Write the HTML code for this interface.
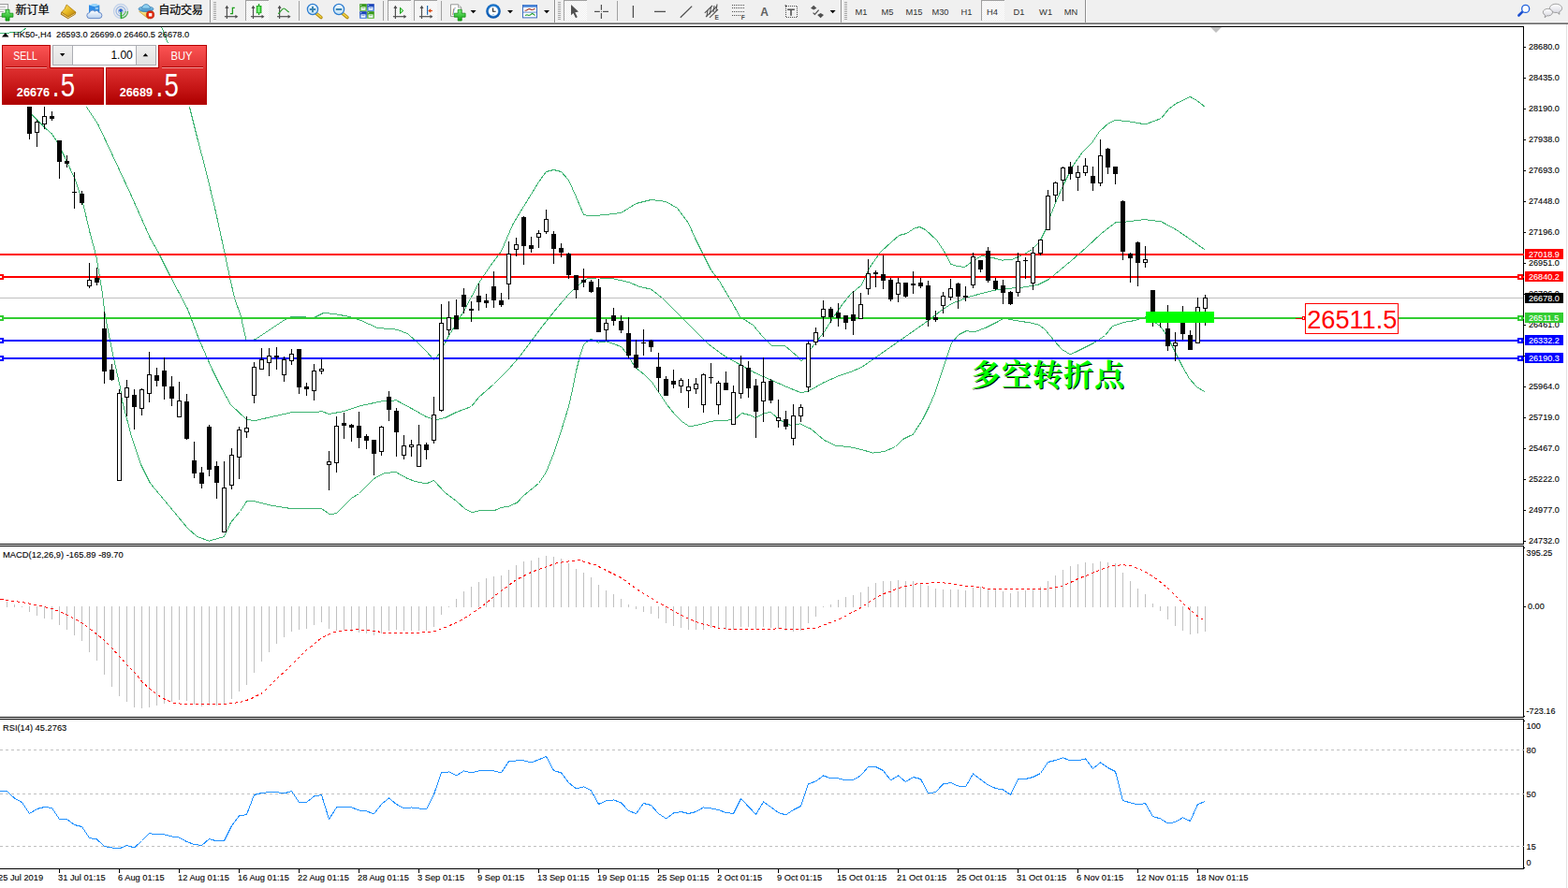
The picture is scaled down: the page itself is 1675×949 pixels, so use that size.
<!DOCTYPE html>
<html><head><meta charset="utf-8"><title>HK50 H4</title>
<style>
html,body{margin:0;padding:0;background:#fff;}
body{width:1675px;height:949px;position:relative;overflow:hidden;font-family:"Liberation Sans", sans-serif;}
#tb{position:absolute;left:0;top:0;width:1675px;height:26px;background:#F0F0F0;}
#tb .l1{position:absolute;left:0;top:23px;width:100%;height:1px;background:#F5F5F5}
#tb .l2{position:absolute;left:0;top:24px;width:100%;height:1px;background:#A0A0A0}
#tb .l3{position:absolute;left:0;top:25px;width:100%;height:1px;background:#696969}
</style></head><body>
<svg width="1675" height="949" viewBox="0 0 1675 949" shape-rendering="crispEdges" font-family='"Liberation Sans", sans-serif' style="position:absolute;left:0;top:0"><polyline points="172.5,28.5 179.5,46.5" fill="none" stroke="#3CB371" stroke-width="1"/>
<polyline points="202.5,114.5 210.5,146.5 220.5,184.5 230.5,226.5 240.5,272.5 245.5,296.5 250.5,318.5 257.5,338.5 262.9,363.5 272.5,362.9 304.5,341.5 312.5,338.1 335.5,339.5 345.5,334.5 357.5,335.5 373.5,338.5 385.5,342.5 403.5,350.5 423.5,352.1 435.5,356.5 447.5,367.5 455.5,375.5 463.5,384.5 467.5,380.5 475.5,366.5 479.5,358.5 483.5,352.5 495.5,332.5 511.5,302.5 523.5,284.5 535.5,268.5 547.5,240.5 559.5,220.5 575.5,194.5 583.5,183.5 591.5,181.5 599.5,183.5 607.5,192.5 615.5,210.5 623.5,229.5 629.5,230.9 647.5,229.5 663.5,227.5 679.5,217.5 695.5,213.5 711.5,215.5 723.5,222.5 735.5,238.5 743.5,256.5 751.5,272.5 759.5,288.5 768.5,300.5 780.5,320.5 790.5,338.5 804.5,347.5 814.5,359.5 824.5,369.5 838.5,369.5 852.5,381.5 856.1,386.1 860.5,381.5 866.5,372.5 880.5,354.5 890.5,338.5 900.5,324.5 908.5,314.5 920.5,304.5 928.5,286.5 940.5,269.5 952.5,258.5 960.5,251.5 968.5,249.5 976.5,244.1 982.5,242.5 988.5,245.5 1000.5,256.5 1008.5,268.5 1015.5,282.1 1022.5,284.5 1030.5,285.5 1038.5,279.5 1048.5,273.5 1060.5,275.5 1070.5,278.1 1080.5,277.5 1092.5,272.5 1102.5,266.5 1110.5,258.5 1116.5,246.5 1120.5,234.5 1128.5,214.5 1136.5,196.5 1146.5,176.5 1156.5,162.5 1166.5,152.5 1174.5,140.5 1184.5,131.5 1191.5,128.5 1204.5,129.5 1223.5,132.9 1240.5,126.5 1248.5,116.5 1256.5,110.5 1271.5,103.5 1278.5,107.5 1287.1,114.1" fill="none" stroke="#3CB371" stroke-width="1"/>
<polyline points="0.5,35.5 14.5,34.8 22.5,34.0 28.5,29.5" fill="none" stroke="#3CB371" stroke-width="1"/>
<polyline points="92.5,114.5 104.5,132.5 120.5,166.5 140.5,209.5 160.5,254.5 169.5,270.5 180.5,292.5 200.5,330.5 212.5,362.5 226.5,394.5 236.5,414.5 246.5,432.5 263.5,448.5 272.5,449.5 310.5,440.9 335.5,440.9 343.5,439.5 351.5,442.5 367.5,439.5 385.5,433.5 409.5,428.5 423.5,427.9 439.5,436.5 455.5,445.5 465.5,448.9 475.5,446.5 487.5,440.5 503.5,434.5 511.5,424.5 527.5,410.5 543.5,394.5 555.5,380.5 567.5,364.5 579.5,348.5 595.5,328.5 607.5,314.5 615.5,306.5 627.5,297.5 639.5,296.9 655.5,297.9 671.5,301.5 683.5,306.5 695.5,309.1 707.5,318.5 719.5,330.5 731.5,342.5 743.5,354.5 756.5,367.5 772.5,379.5 788.5,388.5 806.5,398.5 824.5,406.5 840.5,413.5 856.1,419.9 864.5,417.5 880.5,408.5 896.5,401.5 908.5,397.5 920.5,392.5 940.5,378.5 960.5,364.5 980.5,350.5 994.5,340.5 1004.5,332.5 1016.5,324.5 1036.5,316.9 1056.5,311.5 1072.5,308.5 1090.5,307.5 1108.5,304.5 1120.5,298.5 1132.5,288.5 1144.5,278.5 1160.5,264.5 1176.5,249.5 1191.5,237.9 1204.5,236.9 1222.5,234.5 1240.5,236.9 1256.5,245.5 1272.5,256.5 1287.1,266.9" fill="none" stroke="#3CB371" stroke-width="1"/>
<polyline points="29.1,114.5 34.9,123.5 47.8,136.5 54.9,142.5 60.5,150.5 69.5,168.5 80.5,192.5 88.5,216.5 96.5,250.5 102.5,272.5 105.5,289.5 109.5,314.5 112.5,338.5 120.5,378.5 128.5,414.5 130.5,428.5 140.5,466.5 150.5,496.5 160.5,516.5 180.5,540.5 200.5,564.5 210.5,573.5 223.5,578.1 239.5,573.5 246.5,558.5 256.5,546.5 263.5,535.9 272.5,535.9 288.5,539.9 310.5,543.5 335.5,543.1 343.5,543.5 352.5,549.9 359.5,548.5 375.5,532.5 383.5,527.5 399.5,511.5 411.5,505.1 423.5,504.9 435.5,511.5 443.5,514.5 455.5,516.9 463.5,513.5 475.5,526.5 487.5,535.5 497.5,544.5 504.5,547.5 511.5,545.9 527.5,545.9 535.5,542.5 543.5,541.1 552.5,537.1 559.5,529.5 575.5,516.5 583.5,504.5 591.5,484.5 599.5,460.5 607.5,434.5 611.5,416.5 615.5,396.5 619.5,380.5 623.5,368.5 627.5,364.9 631.5,362.5 639.5,366.1 647.5,364.9 655.5,367.5 663.5,370.5 668.5,376.5 678.5,392.5 688.5,400.5 696.5,408.5 704.5,420.5 712.5,432.5 720.5,442.5 728.5,450.5 736.5,455.9 748.5,453.5 760.5,450.1 772.5,449.5 784.5,448.5 792.5,441.5 800.5,443.5 807.5,446.5 816.5,441.5 823.5,440.5 832.5,448.5 844.5,454.5 854.5,452.9 866.5,458.5 880.5,470.5 892.5,476.1 908.5,477.9 920.5,480.5 932.5,484.1 944.5,482.5 956.5,477.5 964.5,469.5 975.5,464.1 985.5,448.5 992.5,434.5 998.5,420.5 1006.5,396.5 1012.5,378.5 1016.5,366.5 1024.5,357.5 1032.5,353.5 1040.5,354.9 1052.5,350.5 1064.5,344.5 1072.5,340.1 1084.5,342.5 1100.5,344.9 1110.5,347.5 1116.5,352.5 1126.5,364.5 1134.5,373.5 1143.5,378.9 1152.5,374.5 1168.5,366.5 1180.5,358.5 1188.5,348.5 1200.5,344.5 1212.5,342.5 1224.5,338.5 1239.5,348.5 1246.5,358.5 1254.5,374.5 1262.5,390.5 1270.5,404.5 1278.5,413.5 1287.1,418.9" fill="none" stroke="#3CB371" stroke-width="1"/>
<rect x="0" y="318" width="1627" height="1" fill="#C0C0C0"/>
<rect x="0" y="271" width="1627" height="2" fill="#FF0000"/>
<rect x="0" y="295" width="1627" height="2" fill="#FF0000"/>
<rect x="0" y="339" width="1627" height="2" fill="#32CD32"/>
<rect x="0" y="363" width="1627" height="2" fill="#0000FF"/>
<rect x="0" y="382" width="1627" height="2" fill="#0000FF"/>
<rect x="31" y="95" width="1" height="54" fill="#000"/>
<rect x="29" y="100" width="5" height="43" fill="#000"/>
<rect x="39" y="128" width="1" height="29" fill="#000"/>
<rect x="37" y="130" width="5" height="12" fill="#000"/>
<rect x="38" y="131" width="3" height="10" fill="#fff"/>
<rect x="47" y="108" width="1" height="30" fill="#000"/>
<rect x="45" y="124" width="5" height="9" fill="#000"/>
<rect x="46" y="125" width="3" height="7" fill="#fff"/>
<rect x="55" y="119" width="1" height="10" fill="#000"/>
<rect x="53" y="124" width="5" height="3" fill="#000"/>
<rect x="63" y="150" width="1" height="41" fill="#000"/>
<rect x="61" y="150" width="5" height="23" fill="#000"/>
<rect x="71" y="166" width="1" height="13" fill="#000"/>
<rect x="69" y="172" width="5" height="3" fill="#000"/>
<rect x="79" y="184" width="1" height="39" fill="#000"/>
<rect x="77" y="205" width="5" height="1" fill="#000"/>
<rect x="87" y="204" width="1" height="15" fill="#000"/>
<rect x="85" y="207" width="5" height="10" fill="#000"/>
<rect x="95" y="281" width="1" height="27" fill="#000"/>
<rect x="93" y="299" width="5" height="7" fill="#000"/>
<rect x="94" y="300" width="3" height="5" fill="#fff"/>
<rect x="103" y="286" width="1" height="19" fill="#000"/>
<rect x="101" y="297" width="5" height="5" fill="#000"/>
<rect x="111" y="333" width="1" height="77" fill="#000"/>
<rect x="109" y="351" width="5" height="46" fill="#000"/>
<rect x="119" y="389" width="1" height="18" fill="#000"/>
<rect x="117" y="395" width="5" height="11" fill="#000"/>
<rect x="127" y="416" width="1" height="98" fill="#000"/>
<rect x="125" y="420" width="5" height="94" fill="#000"/>
<rect x="126" y="421" width="3" height="92" fill="#fff"/>
<rect x="135" y="406" width="1" height="39" fill="#000"/>
<rect x="133" y="414" width="5" height="11" fill="#000"/>
<rect x="134" y="415" width="3" height="9" fill="#fff"/>
<rect x="143" y="416" width="1" height="43" fill="#000"/>
<rect x="141" y="422" width="5" height="13" fill="#000"/>
<rect x="151" y="415" width="1" height="29" fill="#000"/>
<rect x="149" y="416" width="5" height="21" fill="#000"/>
<rect x="150" y="417" width="3" height="19" fill="#fff"/>
<rect x="159" y="376" width="1" height="54" fill="#000"/>
<rect x="157" y="400" width="5" height="21" fill="#000"/>
<rect x="158" y="401" width="3" height="19" fill="#fff"/>
<rect x="167" y="393" width="1" height="20" fill="#000"/>
<rect x="165" y="401" width="5" height="6" fill="#000"/>
<rect x="175" y="382" width="1" height="45" fill="#000"/>
<rect x="173" y="396" width="5" height="17" fill="#000"/>
<rect x="183" y="402" width="1" height="32" fill="#000"/>
<rect x="181" y="413" width="5" height="13" fill="#000"/>
<rect x="191" y="408" width="1" height="38" fill="#000"/>
<rect x="189" y="428" width="5" height="18" fill="#000"/>
<rect x="190" y="429" width="3" height="16" fill="#fff"/>
<rect x="199" y="421" width="1" height="49" fill="#000"/>
<rect x="197" y="429" width="5" height="40" fill="#000"/>
<rect x="207" y="472" width="1" height="39" fill="#000"/>
<rect x="205" y="492" width="5" height="14" fill="#000"/>
<rect x="215" y="499" width="1" height="23" fill="#000"/>
<rect x="213" y="505" width="5" height="12" fill="#000"/>
<rect x="223" y="454" width="1" height="55" fill="#000"/>
<rect x="221" y="456" width="5" height="46" fill="#000"/>
<rect x="231" y="493" width="1" height="40" fill="#000"/>
<rect x="229" y="498" width="5" height="18" fill="#000"/>
<rect x="239" y="493" width="1" height="76" fill="#000"/>
<rect x="237" y="521" width="5" height="48" fill="#000"/>
<rect x="238" y="522" width="3" height="46" fill="#fff"/>
<rect x="247" y="479" width="1" height="44" fill="#000"/>
<rect x="245" y="486" width="5" height="33" fill="#000"/>
<rect x="246" y="487" width="3" height="31" fill="#fff"/>
<rect x="255" y="456" width="1" height="56" fill="#000"/>
<rect x="253" y="459" width="5" height="30" fill="#000"/>
<rect x="254" y="460" width="3" height="28" fill="#fff"/>
<rect x="263" y="445" width="1" height="23" fill="#000"/>
<rect x="261" y="457" width="5" height="5" fill="#000"/>
<rect x="262" y="458" width="3" height="3" fill="#fff"/>
<rect x="271" y="387" width="1" height="44" fill="#000"/>
<rect x="269" y="392" width="5" height="31" fill="#000"/>
<rect x="270" y="393" width="3" height="29" fill="#fff"/>
<rect x="279" y="372" width="1" height="23" fill="#000"/>
<rect x="277" y="384" width="5" height="11" fill="#000"/>
<rect x="278" y="385" width="3" height="9" fill="#fff"/>
<rect x="287" y="372" width="1" height="30" fill="#000"/>
<rect x="285" y="380" width="5" height="8" fill="#000"/>
<rect x="286" y="381" width="3" height="6" fill="#fff"/>
<rect x="295" y="371" width="1" height="24" fill="#000"/>
<rect x="293" y="380" width="5" height="2" fill="#000"/>
<rect x="303" y="381" width="1" height="27" fill="#000"/>
<rect x="301" y="384" width="5" height="17" fill="#000"/>
<rect x="302" y="385" width="3" height="15" fill="#fff"/>
<rect x="311" y="373" width="1" height="17" fill="#000"/>
<rect x="309" y="378" width="5" height="8" fill="#000"/>
<rect x="310" y="379" width="3" height="6" fill="#fff"/>
<rect x="319" y="373" width="1" height="48" fill="#000"/>
<rect x="317" y="373" width="5" height="41" fill="#000"/>
<rect x="327" y="409" width="1" height="14" fill="#000"/>
<rect x="325" y="413" width="5" height="3" fill="#000"/>
<rect x="335" y="389" width="1" height="39" fill="#000"/>
<rect x="333" y="396" width="5" height="22" fill="#000"/>
<rect x="334" y="397" width="3" height="20" fill="#fff"/>
<rect x="343" y="384" width="1" height="16" fill="#000"/>
<rect x="341" y="394" width="5" height="3" fill="#000"/>
<rect x="342" y="395" width="3" height="1" fill="#fff"/>
<rect x="351" y="482" width="1" height="42" fill="#000"/>
<rect x="349" y="493" width="5" height="4" fill="#000"/>
<rect x="350" y="494" width="3" height="2" fill="#fff"/>
<rect x="359" y="445" width="1" height="60" fill="#000"/>
<rect x="357" y="455" width="5" height="40" fill="#000"/>
<rect x="358" y="456" width="3" height="38" fill="#fff"/>
<rect x="367" y="441" width="1" height="28" fill="#000"/>
<rect x="365" y="452" width="5" height="3" fill="#000"/>
<rect x="375" y="453" width="1" height="19" fill="#000"/>
<rect x="373" y="454" width="5" height="3" fill="#000"/>
<rect x="383" y="440" width="1" height="39" fill="#000"/>
<rect x="381" y="455" width="5" height="13" fill="#000"/>
<rect x="391" y="464" width="1" height="16" fill="#000"/>
<rect x="389" y="466" width="5" height="5" fill="#000"/>
<rect x="399" y="470" width="1" height="38" fill="#000"/>
<rect x="397" y="470" width="5" height="15" fill="#000"/>
<rect x="407" y="455" width="1" height="32" fill="#000"/>
<rect x="405" y="456" width="5" height="27" fill="#000"/>
<rect x="406" y="457" width="3" height="25" fill="#fff"/>
<rect x="415" y="418" width="1" height="32" fill="#000"/>
<rect x="413" y="424" width="5" height="14" fill="#000"/>
<rect x="423" y="436" width="1" height="52" fill="#000"/>
<rect x="421" y="439" width="5" height="23" fill="#000"/>
<rect x="431" y="465" width="1" height="26" fill="#000"/>
<rect x="429" y="476" width="5" height="11" fill="#000"/>
<rect x="430" y="477" width="3" height="9" fill="#fff"/>
<rect x="439" y="470" width="1" height="18" fill="#000"/>
<rect x="437" y="475" width="5" height="3" fill="#000"/>
<rect x="438" y="476" width="3" height="1" fill="#fff"/>
<rect x="447" y="454" width="1" height="45" fill="#000"/>
<rect x="445" y="475" width="5" height="24" fill="#000"/>
<rect x="446" y="476" width="3" height="22" fill="#fff"/>
<rect x="455" y="473" width="1" height="18" fill="#000"/>
<rect x="453" y="475" width="5" height="6" fill="#000"/>
<rect x="463" y="424" width="1" height="50" fill="#000"/>
<rect x="461" y="443" width="5" height="28" fill="#000"/>
<rect x="462" y="444" width="3" height="26" fill="#fff"/>
<rect x="471" y="325" width="1" height="115" fill="#000"/>
<rect x="469" y="345" width="5" height="94" fill="#000"/>
<rect x="470" y="346" width="3" height="92" fill="#fff"/>
<rect x="479" y="322" width="1" height="36" fill="#000"/>
<rect x="477" y="339" width="5" height="14" fill="#000"/>
<rect x="478" y="340" width="3" height="12" fill="#fff"/>
<rect x="487" y="320" width="1" height="32" fill="#000"/>
<rect x="485" y="337" width="5" height="15" fill="#000"/>
<rect x="495" y="308" width="1" height="27" fill="#000"/>
<rect x="493" y="315" width="5" height="13" fill="#000"/>
<rect x="503" y="322" width="1" height="22" fill="#000"/>
<rect x="501" y="330" width="5" height="2" fill="#000"/>
<rect x="511" y="303" width="1" height="29" fill="#000"/>
<rect x="509" y="316" width="5" height="7" fill="#000"/>
<rect x="519" y="314" width="1" height="15" fill="#000"/>
<rect x="517" y="321" width="5" height="3" fill="#000"/>
<rect x="527" y="290" width="1" height="39" fill="#000"/>
<rect x="525" y="306" width="5" height="15" fill="#000"/>
<rect x="535" y="313" width="1" height="15" fill="#000"/>
<rect x="533" y="321" width="5" height="5" fill="#000"/>
<rect x="543" y="258" width="1" height="62" fill="#000"/>
<rect x="541" y="271" width="5" height="33" fill="#000"/>
<rect x="542" y="272" width="3" height="31" fill="#fff"/>
<rect x="551" y="254" width="1" height="20" fill="#000"/>
<rect x="549" y="261" width="5" height="6" fill="#000"/>
<rect x="550" y="262" width="3" height="4" fill="#fff"/>
<rect x="559" y="231" width="1" height="52" fill="#000"/>
<rect x="557" y="232" width="5" height="31" fill="#000"/>
<rect x="567" y="253" width="1" height="17" fill="#000"/>
<rect x="565" y="262" width="5" height="4" fill="#000"/>
<rect x="575" y="246" width="1" height="19" fill="#000"/>
<rect x="573" y="249" width="5" height="5" fill="#000"/>
<rect x="574" y="250" width="3" height="3" fill="#fff"/>
<rect x="583" y="224" width="1" height="26" fill="#000"/>
<rect x="581" y="234" width="5" height="14" fill="#000"/>
<rect x="582" y="235" width="3" height="12" fill="#fff"/>
<rect x="591" y="247" width="1" height="35" fill="#000"/>
<rect x="589" y="250" width="5" height="16" fill="#000"/>
<rect x="599" y="260" width="1" height="15" fill="#000"/>
<rect x="597" y="265" width="5" height="5" fill="#000"/>
<rect x="607" y="270" width="1" height="28" fill="#000"/>
<rect x="605" y="271" width="5" height="23" fill="#000"/>
<rect x="615" y="294" width="1" height="25" fill="#000"/>
<rect x="613" y="294" width="5" height="16" fill="#000"/>
<rect x="623" y="287" width="1" height="20" fill="#000"/>
<rect x="621" y="299" width="5" height="3" fill="#000"/>
<rect x="631" y="299" width="1" height="14" fill="#000"/>
<rect x="629" y="301" width="5" height="11" fill="#000"/>
<rect x="639" y="298" width="1" height="57" fill="#000"/>
<rect x="637" y="307" width="5" height="48" fill="#000"/>
<rect x="647" y="341" width="1" height="23" fill="#000"/>
<rect x="645" y="345" width="5" height="8" fill="#000"/>
<rect x="646" y="346" width="3" height="6" fill="#fff"/>
<rect x="655" y="329" width="1" height="19" fill="#000"/>
<rect x="653" y="337" width="5" height="6" fill="#000"/>
<rect x="663" y="337" width="1" height="19" fill="#000"/>
<rect x="661" y="343" width="5" height="10" fill="#000"/>
<rect x="671" y="339" width="1" height="44" fill="#000"/>
<rect x="669" y="356" width="5" height="24" fill="#000"/>
<rect x="679" y="363" width="1" height="31" fill="#000"/>
<rect x="677" y="379" width="5" height="14" fill="#000"/>
<rect x="687" y="352" width="1" height="28" fill="#000"/>
<rect x="685" y="366" width="5" height="1" fill="#000"/>
<rect x="695" y="363" width="1" height="13" fill="#000"/>
<rect x="693" y="364" width="5" height="7" fill="#000"/>
<rect x="703" y="377" width="1" height="42" fill="#000"/>
<rect x="701" y="392" width="5" height="12" fill="#000"/>
<rect x="711" y="402" width="1" height="21" fill="#000"/>
<rect x="709" y="405" width="5" height="18" fill="#000"/>
<rect x="719" y="395" width="1" height="20" fill="#000"/>
<rect x="717" y="407" width="5" height="4" fill="#000"/>
<rect x="727" y="404" width="1" height="16" fill="#000"/>
<rect x="725" y="406" width="5" height="7" fill="#000"/>
<rect x="726" y="407" width="3" height="5" fill="#fff"/>
<rect x="735" y="405" width="1" height="31" fill="#000"/>
<rect x="733" y="413" width="5" height="5" fill="#000"/>
<rect x="734" y="414" width="3" height="3" fill="#fff"/>
<rect x="743" y="404" width="1" height="17" fill="#000"/>
<rect x="741" y="410" width="5" height="6" fill="#000"/>
<rect x="742" y="411" width="3" height="4" fill="#fff"/>
<rect x="751" y="399" width="1" height="42" fill="#000"/>
<rect x="749" y="400" width="5" height="33" fill="#000"/>
<rect x="750" y="401" width="3" height="31" fill="#fff"/>
<rect x="759" y="388" width="1" height="22" fill="#000"/>
<rect x="757" y="403" width="5" height="1" fill="#000"/>
<rect x="767" y="407" width="1" height="36" fill="#000"/>
<rect x="765" y="409" width="5" height="24" fill="#000"/>
<rect x="766" y="410" width="3" height="22" fill="#fff"/>
<rect x="775" y="397" width="1" height="20" fill="#000"/>
<rect x="773" y="409" width="5" height="8" fill="#000"/>
<rect x="783" y="412" width="1" height="42" fill="#000"/>
<rect x="781" y="419" width="5" height="35" fill="#000"/>
<rect x="782" y="420" width="3" height="33" fill="#fff"/>
<rect x="791" y="380" width="1" height="46" fill="#000"/>
<rect x="789" y="390" width="5" height="31" fill="#000"/>
<rect x="790" y="391" width="3" height="29" fill="#fff"/>
<rect x="799" y="386" width="1" height="39" fill="#000"/>
<rect x="797" y="393" width="5" height="22" fill="#000"/>
<rect x="807" y="405" width="1" height="63" fill="#000"/>
<rect x="805" y="412" width="5" height="28" fill="#000"/>
<rect x="815" y="382" width="1" height="69" fill="#000"/>
<rect x="813" y="408" width="5" height="21" fill="#000"/>
<rect x="814" y="409" width="3" height="19" fill="#fff"/>
<rect x="823" y="405" width="1" height="26" fill="#000"/>
<rect x="821" y="407" width="5" height="21" fill="#000"/>
<rect x="831" y="427" width="1" height="30" fill="#000"/>
<rect x="829" y="446" width="5" height="4" fill="#000"/>
<rect x="830" y="447" width="3" height="2" fill="#fff"/>
<rect x="839" y="439" width="1" height="20" fill="#000"/>
<rect x="837" y="448" width="5" height="8" fill="#000"/>
<rect x="847" y="432" width="1" height="44" fill="#000"/>
<rect x="845" y="444" width="5" height="25" fill="#000"/>
<rect x="846" y="445" width="3" height="23" fill="#fff"/>
<rect x="855" y="432" width="1" height="19" fill="#000"/>
<rect x="853" y="435" width="5" height="10" fill="#000"/>
<rect x="854" y="436" width="3" height="8" fill="#fff"/>
<rect x="863" y="365" width="1" height="54" fill="#000"/>
<rect x="861" y="367" width="5" height="47" fill="#000"/>
<rect x="862" y="368" width="3" height="45" fill="#fff"/>
<rect x="871" y="350" width="1" height="19" fill="#000"/>
<rect x="869" y="355" width="5" height="11" fill="#000"/>
<rect x="870" y="356" width="3" height="9" fill="#fff"/>
<rect x="879" y="321" width="1" height="39" fill="#000"/>
<rect x="877" y="330" width="5" height="9" fill="#000"/>
<rect x="878" y="331" width="3" height="7" fill="#fff"/>
<rect x="887" y="328" width="1" height="17" fill="#000"/>
<rect x="885" y="330" width="5" height="9" fill="#000"/>
<rect x="895" y="324" width="1" height="25" fill="#000"/>
<rect x="893" y="334" width="5" height="6" fill="#000"/>
<rect x="903" y="337" width="1" height="15" fill="#000"/>
<rect x="901" y="337" width="5" height="8" fill="#000"/>
<rect x="911" y="311" width="1" height="47" fill="#000"/>
<rect x="909" y="336" width="5" height="7" fill="#000"/>
<rect x="919" y="313" width="1" height="28" fill="#000"/>
<rect x="917" y="325" width="5" height="16" fill="#000"/>
<rect x="918" y="326" width="3" height="14" fill="#fff"/>
<rect x="927" y="277" width="1" height="38" fill="#000"/>
<rect x="925" y="292" width="5" height="17" fill="#000"/>
<rect x="926" y="293" width="3" height="15" fill="#fff"/>
<rect x="935" y="289" width="1" height="18" fill="#000"/>
<rect x="933" y="291" width="5" height="2" fill="#000"/>
<rect x="943" y="273" width="1" height="36" fill="#000"/>
<rect x="941" y="293" width="5" height="7" fill="#000"/>
<rect x="951" y="297" width="1" height="25" fill="#000"/>
<rect x="949" y="299" width="5" height="21" fill="#000"/>
<rect x="959" y="297" width="1" height="26" fill="#000"/>
<rect x="957" y="302" width="5" height="13" fill="#000"/>
<rect x="958" y="303" width="3" height="11" fill="#fff"/>
<rect x="967" y="302" width="1" height="16" fill="#000"/>
<rect x="965" y="302" width="5" height="15" fill="#000"/>
<rect x="975" y="290" width="1" height="24" fill="#000"/>
<rect x="973" y="303" width="5" height="2" fill="#000"/>
<rect x="983" y="297" width="1" height="11" fill="#000"/>
<rect x="981" y="302" width="5" height="4" fill="#000"/>
<rect x="991" y="300" width="1" height="49" fill="#000"/>
<rect x="989" y="305" width="5" height="37" fill="#000"/>
<rect x="999" y="332" width="1" height="12" fill="#000"/>
<rect x="997" y="339" width="5" height="3" fill="#000"/>
<rect x="1007" y="312" width="1" height="23" fill="#000"/>
<rect x="1005" y="316" width="5" height="11" fill="#000"/>
<rect x="1006" y="317" width="3" height="9" fill="#fff"/>
<rect x="1015" y="298" width="1" height="23" fill="#000"/>
<rect x="1013" y="308" width="5" height="10" fill="#000"/>
<rect x="1014" y="309" width="3" height="8" fill="#fff"/>
<rect x="1023" y="302" width="1" height="28" fill="#000"/>
<rect x="1021" y="303" width="5" height="14" fill="#000"/>
<rect x="1031" y="306" width="1" height="16" fill="#000"/>
<rect x="1029" y="316" width="5" height="2" fill="#000"/>
<rect x="1039" y="270" width="1" height="38" fill="#000"/>
<rect x="1037" y="274" width="5" height="31" fill="#000"/>
<rect x="1038" y="275" width="3" height="29" fill="#fff"/>
<rect x="1047" y="278" width="1" height="13" fill="#000"/>
<rect x="1045" y="278" width="5" height="10" fill="#000"/>
<rect x="1055" y="264" width="1" height="38" fill="#000"/>
<rect x="1053" y="268" width="5" height="32" fill="#000"/>
<rect x="1063" y="297" width="1" height="13" fill="#000"/>
<rect x="1061" y="300" width="5" height="9" fill="#000"/>
<rect x="1071" y="299" width="1" height="26" fill="#000"/>
<rect x="1069" y="305" width="5" height="8" fill="#000"/>
<rect x="1079" y="311" width="1" height="15" fill="#000"/>
<rect x="1077" y="312" width="5" height="13" fill="#000"/>
<rect x="1087" y="270" width="1" height="47" fill="#000"/>
<rect x="1085" y="279" width="5" height="34" fill="#000"/>
<rect x="1086" y="280" width="3" height="32" fill="#fff"/>
<rect x="1095" y="275" width="1" height="23" fill="#000"/>
<rect x="1093" y="278" width="5" height="1" fill="#000"/>
<rect x="1103" y="264" width="1" height="46" fill="#000"/>
<rect x="1101" y="270" width="5" height="33" fill="#000"/>
<rect x="1102" y="271" width="3" height="31" fill="#fff"/>
<rect x="1111" y="256" width="1" height="17" fill="#000"/>
<rect x="1109" y="256" width="5" height="15" fill="#000"/>
<rect x="1110" y="257" width="3" height="13" fill="#fff"/>
<rect x="1119" y="203" width="1" height="43" fill="#000"/>
<rect x="1117" y="209" width="5" height="37" fill="#000"/>
<rect x="1118" y="210" width="3" height="35" fill="#fff"/>
<rect x="1127" y="194" width="1" height="22" fill="#000"/>
<rect x="1125" y="195" width="5" height="14" fill="#000"/>
<rect x="1126" y="196" width="3" height="12" fill="#fff"/>
<rect x="1135" y="178" width="1" height="37" fill="#000"/>
<rect x="1133" y="179" width="5" height="14" fill="#000"/>
<rect x="1134" y="180" width="3" height="12" fill="#fff"/>
<rect x="1143" y="173" width="1" height="19" fill="#000"/>
<rect x="1141" y="178" width="5" height="8" fill="#000"/>
<rect x="1151" y="177" width="1" height="27" fill="#000"/>
<rect x="1149" y="184" width="5" height="6" fill="#000"/>
<rect x="1150" y="185" width="3" height="4" fill="#fff"/>
<rect x="1159" y="169" width="1" height="19" fill="#000"/>
<rect x="1157" y="177" width="5" height="8" fill="#000"/>
<rect x="1158" y="178" width="3" height="6" fill="#fff"/>
<rect x="1167" y="178" width="1" height="26" fill="#000"/>
<rect x="1165" y="188" width="5" height="8" fill="#000"/>
<rect x="1175" y="149" width="1" height="50" fill="#000"/>
<rect x="1173" y="166" width="5" height="30" fill="#000"/>
<rect x="1174" y="167" width="3" height="28" fill="#fff"/>
<rect x="1183" y="158" width="1" height="28" fill="#000"/>
<rect x="1181" y="159" width="5" height="20" fill="#000"/>
<rect x="1191" y="178" width="1" height="19" fill="#000"/>
<rect x="1189" y="178" width="5" height="8" fill="#000"/>
<rect x="1199" y="214" width="1" height="64" fill="#000"/>
<rect x="1197" y="215" width="5" height="54" fill="#000"/>
<rect x="1207" y="270" width="1" height="32" fill="#000"/>
<rect x="1205" y="271" width="5" height="5" fill="#000"/>
<rect x="1215" y="258" width="1" height="48" fill="#000"/>
<rect x="1213" y="259" width="5" height="22" fill="#000"/>
<rect x="1223" y="263" width="1" height="23" fill="#000"/>
<rect x="1221" y="277" width="5" height="4" fill="#000"/>
<rect x="1222" y="278" width="3" height="2" fill="#fff"/>
<rect x="1231" y="310" width="1" height="39" fill="#000"/>
<rect x="1229" y="310" width="5" height="34" fill="#000"/>
<rect x="1239" y="334" width="1" height="16" fill="#000"/>
<rect x="1237" y="338" width="5" height="5" fill="#000"/>
<rect x="1247" y="326" width="1" height="49" fill="#000"/>
<rect x="1245" y="351" width="5" height="19" fill="#000"/>
<rect x="1255" y="355" width="1" height="31" fill="#000"/>
<rect x="1253" y="366" width="5" height="4" fill="#000"/>
<rect x="1254" y="367" width="3" height="2" fill="#fff"/>
<rect x="1263" y="327" width="1" height="36" fill="#000"/>
<rect x="1261" y="338" width="5" height="19" fill="#000"/>
<rect x="1271" y="353" width="1" height="21" fill="#000"/>
<rect x="1269" y="358" width="5" height="16" fill="#000"/>
<rect x="1279" y="318" width="1" height="49" fill="#000"/>
<rect x="1277" y="328" width="5" height="39" fill="#000"/>
<rect x="1278" y="329" width="3" height="37" fill="#fff"/>
<rect x="1287" y="315" width="1" height="33" fill="#000"/>
<rect x="1285" y="318" width="5" height="12" fill="#000"/>
<rect x="1286" y="319" width="3" height="10" fill="#fff"/>
<rect x="1224" y="333" width="73" height="12" fill="#00FF00"/>
<rect x="-2" y="293" width="6" height="6" fill="#FF0000"/>
<rect x="0" y="295" width="2" height="2" fill="#fff"/>
<rect x="1621" y="293" width="6" height="6" fill="#FF0000"/>
<rect x="1623" y="295" width="2" height="2" fill="#fff"/>
<rect x="-2" y="337" width="6" height="6" fill="#32CD32"/>
<rect x="0" y="339" width="2" height="2" fill="#fff"/>
<rect x="1621" y="337" width="6" height="6" fill="#32CD32"/>
<rect x="1623" y="339" width="2" height="2" fill="#fff"/>
<rect x="-2" y="361" width="6" height="6" fill="#0000FF"/>
<rect x="0" y="363" width="2" height="2" fill="#fff"/>
<rect x="1621" y="361" width="6" height="6" fill="#0000FF"/>
<rect x="1623" y="363" width="2" height="2" fill="#fff"/>
<rect x="-2" y="380" width="6" height="6" fill="#0000FF"/>
<rect x="0" y="382" width="2" height="2" fill="#fff"/>
<rect x="1621" y="380" width="6" height="6" fill="#0000FF"/>
<rect x="1623" y="382" width="2" height="2" fill="#fff"/>
<g><title>多空转折点</title>
<text x="1038" y="413" font-size="32" font-weight="bold" font-family='"Liberation Serif", "Noto Serif CJK SC", serif' fill="#000" textLength="164" lengthAdjust="spacing" shape-rendering="auto">多空转折点</text>
<text x="1037" y="412" font-size="32" font-weight="bold" font-family='"Liberation Serif", "Noto Serif CJK SC", serif' fill="#00FF00" textLength="164" lengthAdjust="spacing" shape-rendering="auto">多空转折点</text>
</g>
<rect x="1384" y="340" width="8" height="1" fill="#FF0000"/>
<rect x="1391" y="338" width="3" height="4" fill="#FF0000"/>
<rect x="1392" y="339" width="1" height="2" fill="#fff"/>
<rect x="1394" y="324" width="100" height="33" fill="#FF0000"/>
<rect x="1395" y="325" width="98" height="31" fill="#fff"/>
<text x="1396.2" y="351" font-size="28" fill="#FF0000" text-anchor="start" font-weight="normal" textLength="96.2" lengthAdjust="spacingAndGlyphs">26511.5</text>
<rect x="0" y="28" width="1628" height="1" fill="#000"/>
<rect x="1627" y="28" width="1" height="554" fill="#000"/>
<rect x="0" y="581" width="1628" height="1" fill="#000"/>
<rect x="0" y="583" width="1628" height="1" fill="#000"/>
<rect x="1627" y="583" width="1" height="184" fill="#000"/>
<rect x="0" y="766" width="1628" height="1" fill="#000"/>
<rect x="0" y="768" width="1628" height="1" fill="#000"/>
<rect x="1627" y="768" width="1" height="161" fill="#000"/>
<rect x="0" y="928" width="1628" height="1" fill="#000"/>
<rect x="1673" y="26" width="1" height="923" fill="#E3E3E3"/>
<rect x="1627" y="271" width="1" height="2" fill="#FF0000"/>
<rect x="1627" y="295" width="1" height="2" fill="#FF0000"/>
<rect x="1627" y="339" width="1" height="2" fill="#32CD32"/>
<rect x="1627" y="363" width="1" height="2" fill="#0000FF"/>
<rect x="1627" y="382" width="1" height="2" fill="#0000FF"/>
<line x1="0" x2="1628" y1="801.5" y2="801.5" stroke="#C0C0C0" stroke-width="1" stroke-dasharray="3 3"/>
<line x1="0" x2="1628" y1="848.5" y2="848.5" stroke="#C0C0C0" stroke-width="1" stroke-dasharray="3 3"/>
<line x1="0" x2="1628" y1="904.5" y2="904.5" stroke="#C0C0C0" stroke-width="1" stroke-dasharray="3 3"/>
<polygon points="1293,29 1305,29 1299,35" fill="#C0C0C0" shape-rendering="auto"/>
<rect x="1628" y="50" width="2" height="1" fill="#000"/>
<text x="1633" y="53.4" font-size="9.1" fill="#000" text-anchor="start" font-weight="normal" stroke="#000" stroke-width="0.1">28680.0</text>
<rect x="1628" y="83" width="2" height="1" fill="#000"/>
<text x="1633" y="86.4" font-size="9.1" fill="#000" text-anchor="start" font-weight="normal" stroke="#000" stroke-width="0.1">28435.0</text>
<rect x="1628" y="116" width="2" height="1" fill="#000"/>
<text x="1633" y="119.4" font-size="9.1" fill="#000" text-anchor="start" font-weight="normal" stroke="#000" stroke-width="0.1">28190.0</text>
<rect x="1628" y="149" width="2" height="1" fill="#000"/>
<text x="1633" y="152.4" font-size="9.1" fill="#000" text-anchor="start" font-weight="normal" stroke="#000" stroke-width="0.1">27938.0</text>
<rect x="1628" y="182" width="2" height="1" fill="#000"/>
<text x="1633" y="185.4" font-size="9.1" fill="#000" text-anchor="start" font-weight="normal" stroke="#000" stroke-width="0.1">27693.0</text>
<rect x="1628" y="215" width="2" height="1" fill="#000"/>
<text x="1633" y="218.4" font-size="9.1" fill="#000" text-anchor="start" font-weight="normal" stroke="#000" stroke-width="0.1">27448.0</text>
<rect x="1628" y="248" width="2" height="1" fill="#000"/>
<text x="1633" y="251.4" font-size="9.1" fill="#000" text-anchor="start" font-weight="normal" stroke="#000" stroke-width="0.1">27196.0</text>
<rect x="1628" y="281" width="2" height="1" fill="#000"/>
<text x="1633" y="284.4" font-size="9.1" fill="#000" text-anchor="start" font-weight="normal" stroke="#000" stroke-width="0.1">26951.0</text>
<rect x="1628" y="314" width="2" height="1" fill="#000"/>
<text x="1633" y="317.4" font-size="9.1" fill="#000" text-anchor="start" font-weight="normal" stroke="#000" stroke-width="0.1">26706.0</text>
<rect x="1628" y="347" width="2" height="1" fill="#000"/>
<text x="1633" y="350.4" font-size="9.1" fill="#000" text-anchor="start" font-weight="normal" stroke="#000" stroke-width="0.1">26461.0</text>
<rect x="1628" y="380" width="2" height="1" fill="#000"/>
<text x="1633" y="383.4" font-size="9.1" fill="#000" text-anchor="start" font-weight="normal" stroke="#000" stroke-width="0.1">26216.0</text>
<rect x="1628" y="413" width="2" height="1" fill="#000"/>
<text x="1633" y="416.4" font-size="9.1" fill="#000" text-anchor="start" font-weight="normal" stroke="#000" stroke-width="0.1">25964.0</text>
<rect x="1628" y="446" width="2" height="1" fill="#000"/>
<text x="1633" y="449.4" font-size="9.1" fill="#000" text-anchor="start" font-weight="normal" stroke="#000" stroke-width="0.1">25719.0</text>
<rect x="1628" y="479" width="2" height="1" fill="#000"/>
<text x="1633" y="482.4" font-size="9.1" fill="#000" text-anchor="start" font-weight="normal" stroke="#000" stroke-width="0.1">25467.0</text>
<rect x="1628" y="512" width="2" height="1" fill="#000"/>
<text x="1633" y="515.4" font-size="9.1" fill="#000" text-anchor="start" font-weight="normal" stroke="#000" stroke-width="0.1">25222.0</text>
<rect x="1628" y="545" width="2" height="1" fill="#000"/>
<text x="1633" y="548.4" font-size="9.1" fill="#000" text-anchor="start" font-weight="normal" stroke="#000" stroke-width="0.1">24977.0</text>
<rect x="1628" y="578" width="2" height="1" fill="#000"/>
<text x="1633" y="581.4" font-size="9.1" fill="#000" text-anchor="start" font-weight="normal" stroke="#000" stroke-width="0.1">24732.0</text>
<rect x="1629" y="266" width="41" height="11" fill="#FF0000"/>
<text x="1633" y="275" font-size="9.1" fill="#fff" text-anchor="start" font-weight="normal" stroke="#fff" stroke-width="0.1">27018.9</text>
<rect x="1629" y="290" width="41" height="11" fill="#FF0000"/>
<text x="1633" y="299" font-size="9.1" fill="#fff" text-anchor="start" font-weight="normal" stroke="#fff" stroke-width="0.1">26840.2</text>
<rect x="1629" y="313" width="41" height="11" fill="#000"/>
<text x="1633" y="322" font-size="9.1" fill="#fff" text-anchor="start" font-weight="normal" stroke="#fff" stroke-width="0.1">26678.0</text>
<rect x="1629" y="334" width="41" height="11" fill="#32CD32"/>
<text x="1633" y="343" font-size="9.1" fill="#fff" text-anchor="start" font-weight="normal" stroke="#fff" stroke-width="0.1">26511.5</text>
<rect x="1629" y="358" width="41" height="11" fill="#0000FF"/>
<text x="1633" y="367" font-size="9.1" fill="#fff" text-anchor="start" font-weight="normal" stroke="#fff" stroke-width="0.1">26332.2</text>
<rect x="1629" y="377" width="41" height="11" fill="#0000FF"/>
<text x="1633" y="386" font-size="9.1" fill="#fff" text-anchor="start" font-weight="normal" stroke="#fff" stroke-width="0.1">26190.3</text>
<rect x="7" y="643" width="1" height="6" fill="#C0C0C0"/>
<rect x="15" y="646" width="1" height="3" fill="#C0C0C0"/>
<rect x="23" y="648" width="1" height="1" fill="#C0C0C0"/>
<rect x="31" y="648" width="1" height="6" fill="#C0C0C0"/>
<rect x="39" y="648" width="1" height="10" fill="#C0C0C0"/>
<rect x="47" y="648" width="1" height="13" fill="#C0C0C0"/>
<rect x="55" y="648" width="1" height="14" fill="#C0C0C0"/>
<rect x="63" y="648" width="1" height="20" fill="#C0C0C0"/>
<rect x="71" y="648" width="1" height="25" fill="#C0C0C0"/>
<rect x="79" y="648" width="1" height="31" fill="#C0C0C0"/>
<rect x="87" y="648" width="1" height="37" fill="#C0C0C0"/>
<rect x="95" y="648" width="1" height="49" fill="#C0C0C0"/>
<rect x="103" y="648" width="1" height="58" fill="#C0C0C0"/>
<rect x="111" y="648" width="1" height="73" fill="#C0C0C0"/>
<rect x="119" y="648" width="1" height="86" fill="#C0C0C0"/>
<rect x="127" y="648" width="1" height="96" fill="#C0C0C0"/>
<rect x="135" y="648" width="1" height="102" fill="#C0C0C0"/>
<rect x="143" y="648" width="1" height="108" fill="#C0C0C0"/>
<rect x="151" y="648" width="1" height="109" fill="#C0C0C0"/>
<rect x="159" y="648" width="1" height="108" fill="#C0C0C0"/>
<rect x="167" y="648" width="1" height="106" fill="#C0C0C0"/>
<rect x="175" y="648" width="1" height="104" fill="#C0C0C0"/>
<rect x="183" y="648" width="1" height="102" fill="#C0C0C0"/>
<rect x="191" y="648" width="1" height="100" fill="#C0C0C0"/>
<rect x="199" y="648" width="1" height="101" fill="#C0C0C0"/>
<rect x="207" y="648" width="1" height="105" fill="#C0C0C0"/>
<rect x="215" y="648" width="1" height="107" fill="#C0C0C0"/>
<rect x="223" y="648" width="1" height="106" fill="#C0C0C0"/>
<rect x="231" y="648" width="1" height="106" fill="#C0C0C0"/>
<rect x="239" y="648" width="1" height="105" fill="#C0C0C0"/>
<rect x="247" y="648" width="1" height="99" fill="#C0C0C0"/>
<rect x="255" y="648" width="1" height="91" fill="#C0C0C0"/>
<rect x="263" y="648" width="1" height="84" fill="#C0C0C0"/>
<rect x="271" y="648" width="1" height="71" fill="#C0C0C0"/>
<rect x="279" y="648" width="1" height="59" fill="#C0C0C0"/>
<rect x="287" y="648" width="1" height="49" fill="#C0C0C0"/>
<rect x="295" y="648" width="1" height="40" fill="#C0C0C0"/>
<rect x="303" y="648" width="1" height="33" fill="#C0C0C0"/>
<rect x="311" y="648" width="1" height="27" fill="#C0C0C0"/>
<rect x="319" y="648" width="1" height="25" fill="#C0C0C0"/>
<rect x="327" y="648" width="1" height="24" fill="#C0C0C0"/>
<rect x="335" y="648" width="1" height="20" fill="#C0C0C0"/>
<rect x="343" y="648" width="1" height="17" fill="#C0C0C0"/>
<rect x="351" y="648" width="1" height="24" fill="#C0C0C0"/>
<rect x="359" y="648" width="1" height="26" fill="#C0C0C0"/>
<rect x="367" y="648" width="1" height="25" fill="#C0C0C0"/>
<rect x="375" y="648" width="1" height="27" fill="#C0C0C0"/>
<rect x="383" y="648" width="1" height="28" fill="#C0C0C0"/>
<rect x="391" y="648" width="1" height="29" fill="#C0C0C0"/>
<rect x="399" y="648" width="1" height="31" fill="#C0C0C0"/>
<rect x="407" y="648" width="1" height="29" fill="#C0C0C0"/>
<rect x="415" y="648" width="1" height="26" fill="#C0C0C0"/>
<rect x="423" y="648" width="1" height="25" fill="#C0C0C0"/>
<rect x="431" y="648" width="1" height="26" fill="#C0C0C0"/>
<rect x="439" y="648" width="1" height="26" fill="#C0C0C0"/>
<rect x="447" y="648" width="1" height="26" fill="#C0C0C0"/>
<rect x="455" y="648" width="1" height="26" fill="#C0C0C0"/>
<rect x="463" y="648" width="1" height="22" fill="#C0C0C0"/>
<rect x="471" y="648" width="1" height="9" fill="#C0C0C0"/>
<rect x="479" y="648" width="1" height="1" fill="#C0C0C0"/>
<rect x="487" y="640" width="1" height="9" fill="#C0C0C0"/>
<rect x="495" y="632" width="1" height="17" fill="#C0C0C0"/>
<rect x="503" y="627" width="1" height="22" fill="#C0C0C0"/>
<rect x="511" y="622" width="1" height="27" fill="#C0C0C0"/>
<rect x="519" y="618" width="1" height="31" fill="#C0C0C0"/>
<rect x="527" y="616" width="1" height="33" fill="#C0C0C0"/>
<rect x="535" y="615" width="1" height="34" fill="#C0C0C0"/>
<rect x="543" y="609" width="1" height="40" fill="#C0C0C0"/>
<rect x="551" y="604" width="1" height="45" fill="#C0C0C0"/>
<rect x="559" y="600" width="1" height="49" fill="#C0C0C0"/>
<rect x="567" y="599" width="1" height="50" fill="#C0C0C0"/>
<rect x="575" y="596" width="1" height="53" fill="#C0C0C0"/>
<rect x="583" y="594" width="1" height="55" fill="#C0C0C0"/>
<rect x="591" y="595" width="1" height="54" fill="#C0C0C0"/>
<rect x="599" y="597" width="1" height="52" fill="#C0C0C0"/>
<rect x="607" y="602" width="1" height="47" fill="#C0C0C0"/>
<rect x="615" y="608" width="1" height="41" fill="#C0C0C0"/>
<rect x="623" y="612" width="1" height="37" fill="#C0C0C0"/>
<rect x="631" y="617" width="1" height="32" fill="#C0C0C0"/>
<rect x="639" y="625" width="1" height="24" fill="#C0C0C0"/>
<rect x="647" y="631" width="1" height="18" fill="#C0C0C0"/>
<rect x="655" y="635" width="1" height="14" fill="#C0C0C0"/>
<rect x="663" y="640" width="1" height="9" fill="#C0C0C0"/>
<rect x="671" y="646" width="1" height="3" fill="#C0C0C0"/>
<rect x="679" y="648" width="1" height="3" fill="#C0C0C0"/>
<rect x="687" y="648" width="1" height="6" fill="#C0C0C0"/>
<rect x="695" y="648" width="1" height="8" fill="#C0C0C0"/>
<rect x="703" y="648" width="1" height="13" fill="#C0C0C0"/>
<rect x="711" y="648" width="1" height="18" fill="#C0C0C0"/>
<rect x="719" y="648" width="1" height="21" fill="#C0C0C0"/>
<rect x="727" y="648" width="1" height="23" fill="#C0C0C0"/>
<rect x="735" y="648" width="1" height="25" fill="#C0C0C0"/>
<rect x="743" y="648" width="1" height="25" fill="#C0C0C0"/>
<rect x="751" y="648" width="1" height="25" fill="#C0C0C0"/>
<rect x="759" y="648" width="1" height="23" fill="#C0C0C0"/>
<rect x="767" y="648" width="1" height="24" fill="#C0C0C0"/>
<rect x="775" y="648" width="1" height="25" fill="#C0C0C0"/>
<rect x="783" y="648" width="1" height="25" fill="#C0C0C0"/>
<rect x="791" y="648" width="1" height="22" fill="#C0C0C0"/>
<rect x="799" y="648" width="1" height="22" fill="#C0C0C0"/>
<rect x="807" y="648" width="1" height="24" fill="#C0C0C0"/>
<rect x="815" y="648" width="1" height="22" fill="#C0C0C0"/>
<rect x="823" y="648" width="1" height="23" fill="#C0C0C0"/>
<rect x="831" y="648" width="1" height="24" fill="#C0C0C0"/>
<rect x="839" y="648" width="1" height="26" fill="#C0C0C0"/>
<rect x="847" y="648" width="1" height="27" fill="#C0C0C0"/>
<rect x="855" y="648" width="1" height="26" fill="#C0C0C0"/>
<rect x="863" y="648" width="1" height="18" fill="#C0C0C0"/>
<rect x="871" y="648" width="1" height="11" fill="#C0C0C0"/>
<rect x="879" y="648" width="1" height="1" fill="#C0C0C0"/>
<rect x="887" y="646" width="1" height="3" fill="#C0C0C0"/>
<rect x="895" y="641" width="1" height="8" fill="#C0C0C0"/>
<rect x="903" y="638" width="1" height="11" fill="#C0C0C0"/>
<rect x="911" y="636" width="1" height="13" fill="#C0C0C0"/>
<rect x="919" y="633" width="1" height="16" fill="#C0C0C0"/>
<rect x="927" y="627" width="1" height="22" fill="#C0C0C0"/>
<rect x="935" y="623" width="1" height="26" fill="#C0C0C0"/>
<rect x="943" y="621" width="1" height="28" fill="#C0C0C0"/>
<rect x="951" y="621" width="1" height="28" fill="#C0C0C0"/>
<rect x="959" y="620" width="1" height="29" fill="#C0C0C0"/>
<rect x="967" y="621" width="1" height="28" fill="#C0C0C0"/>
<rect x="975" y="621" width="1" height="28" fill="#C0C0C0"/>
<rect x="983" y="623" width="1" height="26" fill="#C0C0C0"/>
<rect x="991" y="626" width="1" height="23" fill="#C0C0C0"/>
<rect x="999" y="629" width="1" height="20" fill="#C0C0C0"/>
<rect x="1007" y="630" width="1" height="19" fill="#C0C0C0"/>
<rect x="1015" y="630" width="1" height="19" fill="#C0C0C0"/>
<rect x="1023" y="630" width="1" height="19" fill="#C0C0C0"/>
<rect x="1031" y="631" width="1" height="18" fill="#C0C0C0"/>
<rect x="1039" y="628" width="1" height="21" fill="#C0C0C0"/>
<rect x="1047" y="627" width="1" height="22" fill="#C0C0C0"/>
<rect x="1055" y="629" width="1" height="20" fill="#C0C0C0"/>
<rect x="1063" y="630" width="1" height="19" fill="#C0C0C0"/>
<rect x="1071" y="632" width="1" height="17" fill="#C0C0C0"/>
<rect x="1079" y="634" width="1" height="15" fill="#C0C0C0"/>
<rect x="1087" y="632" width="1" height="17" fill="#C0C0C0"/>
<rect x="1095" y="631" width="1" height="18" fill="#C0C0C0"/>
<rect x="1103" y="629" width="1" height="20" fill="#C0C0C0"/>
<rect x="1111" y="627" width="1" height="22" fill="#C0C0C0"/>
<rect x="1119" y="621" width="1" height="28" fill="#C0C0C0"/>
<rect x="1127" y="615" width="1" height="34" fill="#C0C0C0"/>
<rect x="1135" y="609" width="1" height="40" fill="#C0C0C0"/>
<rect x="1143" y="605" width="1" height="44" fill="#C0C0C0"/>
<rect x="1151" y="603" width="1" height="46" fill="#C0C0C0"/>
<rect x="1159" y="601" width="1" height="48" fill="#C0C0C0"/>
<rect x="1167" y="602" width="1" height="47" fill="#C0C0C0"/>
<rect x="1175" y="600" width="1" height="49" fill="#C0C0C0"/>
<rect x="1183" y="601" width="1" height="48" fill="#C0C0C0"/>
<rect x="1191" y="602" width="1" height="47" fill="#C0C0C0"/>
<rect x="1199" y="612" width="1" height="37" fill="#C0C0C0"/>
<rect x="1207" y="621" width="1" height="28" fill="#C0C0C0"/>
<rect x="1215" y="629" width="1" height="20" fill="#C0C0C0"/>
<rect x="1223" y="635" width="1" height="14" fill="#C0C0C0"/>
<rect x="1231" y="645" width="1" height="4" fill="#C0C0C0"/>
<rect x="1239" y="648" width="1" height="5" fill="#C0C0C0"/>
<rect x="1247" y="648" width="1" height="14" fill="#C0C0C0"/>
<rect x="1255" y="648" width="1" height="21" fill="#C0C0C0"/>
<rect x="1263" y="648" width="1" height="26" fill="#C0C0C0"/>
<rect x="1271" y="648" width="1" height="30" fill="#C0C0C0"/>
<rect x="1279" y="648" width="1" height="29" fill="#C0C0C0"/>
<rect x="1287" y="648" width="1" height="27" fill="#C0C0C0"/>
<polyline points="0.5,640.5 12.5,642.1 26.5,644.1 40.5,647.1 54.5,650.1 66.5,654.9 80.5,661.5 88.5,666.5 96.5,672.5 104.5,678.5 112.5,685.5 120.5,693.5 128.5,702.5 136.5,711.5 144.5,719.5 152.5,729.5 160.5,736.5 168.5,742.9 176.5,747.5 184.5,750.9 192.5,752.1 208.5,752.9 224.5,752.5 240.5,752.5 252.5,750.9 260.5,749.5 268.5,746.5 280.5,740.5 288.5,732.5 296.5,724.5 304.5,717.5 312.5,709.5 320.5,701.5 328.5,693.5 335.5,688.5 343.5,681.5 355.5,675.9 367.5,673.5 383.5,672.9 403.5,674.5 407.5,676.5 431.5,676.9 447.5,676.1 463.5,674.9 475.5,670.5 487.5,665.5 499.5,658.5 511.5,650.5 519.5,644.5 527.5,637.5 535.5,631.5 543.5,625.5 551.5,619.5 559.5,615.5 567.5,611.5 575.5,608.5 583.5,605.9 593.5,602.1 603.5,600.5 615.5,598.9 619.5,598.9 627.5,601.5 635.5,603.5 647.5,609.5 655.5,613.5 663.5,617.5 670.5,622.5 678.5,628.5 686.5,633.5 694.5,638.5 702.5,643.9 710.5,647.5 718.5,652.5 726.5,656.9 734.5,660.9 742.5,664.1 750.5,666.9 758.5,668.5 766.5,670.9 778.5,672.5 794.5,672.9 810.5,672.9 826.5,672.1 834.5,671.7 838.5,672.9 854.5,672.9 862.5,671.9 872.5,670.9 878.5,668.5 886.5,665.5 894.5,662.5 902.5,658.9 910.5,654.1 918.5,650.1 926.5,644.9 934.5,639.5 942.5,634.9 950.5,632.5 958.5,628.9 966.5,626.9 974.5,624.9 984.5,623.1 1008.5,622.9 1025.5,625.5 1049.5,627.9 1055.5,629.1 1073.5,629.9 1093.5,629.9 1109.5,629.5 1119.5,628.9 1127.5,627.5 1135.5,625.9 1143.5,622.5 1151.5,618.5 1159.5,615.5 1167.5,612.1 1175.5,608.9 1183.5,606.1 1191.5,604.1 1201.5,603.9 1209.5,605.1 1217.5,608.5 1225.5,612.1 1233.5,617.5 1241.5,623.5 1249.5,630.5 1257.5,638.5 1265.5,646.5 1273.5,653.5 1281.5,660.5 1287.5,662.9" fill="none" stroke="#FF0000" stroke-width="1" stroke-dasharray="3 3"/>
<text x="3" y="595.5" font-size="9.4" fill="#000" text-anchor="start" font-weight="normal" stroke="#000" stroke-width="0.1">MACD(12,26,9) -165.89 -89.70</text>
<rect x="1628" y="585" width="1" height="1" fill="#000"/>
<text x="1630.6" y="593.5" font-size="9.1" fill="#000" text-anchor="start" font-weight="normal" stroke="#000" stroke-width="0.1">395.25</text>
<rect x="1628" y="648" width="2" height="1" fill="#000"/>
<text x="1632" y="651" font-size="9.1" fill="#000" text-anchor="start" font-weight="normal" stroke="#000" stroke-width="0.1">0.00</text>
<rect x="1628" y="765" width="1" height="1" fill="#000"/>
<text x="1630.6" y="763" font-size="9.1" fill="#000" text-anchor="start" font-weight="normal" stroke="#000" stroke-width="0.1">-723.16</text>
<polyline points="-0.5,845.9 7.5,845.5 15.5,853.1 23.5,857.5 31.5,869.5 39.5,864.5 47.5,862.5 55.5,863.5 63.5,875.5 71.5,875.5 79.5,881.5 87.5,883.5 95.5,895.5 103.5,896.9 111.5,904.5 119.5,905.9 127.5,906.9 135.5,903.5 143.5,905.9 151.5,898.5 159.5,890.5 167.5,891.9 175.5,891.9 183.5,893.9 191.5,895.1 199.5,899.5 207.5,902.5 215.5,903.5 223.5,896.5 231.5,898.9 239.5,898.5 247.5,882.5 255.5,871.9 263.5,870.5 271.5,849.5 279.5,847.5 287.5,846.7 295.5,846.7 303.5,847.9 311.5,845.5 319.5,857.5 327.5,857.5 335.5,850.9 343.5,849.5 351.5,875.5 359.5,862.9 367.5,862.9 375.5,862.9 383.5,865.9 391.5,866.9 399.5,869.9 407.5,859.5 415.5,852.9 423.5,859.5 431.5,863.9 439.5,862.9 447.5,863.9 455.5,864.9 463.5,848.9 471.5,825.9 479.5,824.9 487.5,828.9 495.5,823.9 503.5,825.9 511.5,823.9 519.5,823.9 527.5,823.9 535.5,825.9 543.5,813.9 551.5,812.9 559.5,812.9 567.5,814.9 575.5,811.9 583.5,808.5 591.5,823.5 599.5,825.9 607.5,836.5 615.5,842.9 623.5,840.9 631.5,844.9 639.5,859.5 647.5,855.9 655.5,854.9 663.5,857.9 671.5,866.5 679.5,869.5 687.5,858.5 695.5,860.5 703.5,869.5 711.5,874.9 719.5,868.9 727.5,867.5 735.5,869.5 743.5,867.5 751.5,862.9 759.5,863.9 767.5,865.5 775.5,868.5 783.5,869.5 791.5,853.5 799.5,861.9 807.5,870.5 815.5,856.9 823.5,862.5 831.5,868.5 839.5,870.9 847.5,865.5 855.5,861.5 863.5,837.9 871.5,834.9 879.5,828.9 887.5,831.9 895.5,831.9 903.5,833.9 911.5,833.5 919.5,828.9 927.5,819.5 935.5,819.5 943.5,823.5 951.5,833.9 959.5,828.9 967.5,835.5 975.5,830.5 983.5,832.5 991.5,847.9 999.5,846.5 1007.5,837.9 1015.5,836.5 1023.5,839.9 1031.5,840.9 1039.5,826.9 1047.5,832.9 1055.5,838.9 1063.5,842.5 1071.5,843.9 1079.5,849.5 1087.5,832.9 1095.5,832.5 1103.5,830.5 1111.5,826.5 1119.5,814.5 1127.5,812.5 1135.5,809.9 1143.5,812.9 1151.5,812.9 1159.5,810.9 1167.5,821.5 1175.5,814.9 1183.5,820.5 1191.5,824.5 1199.5,855.5 1207.5,857.9 1215.5,859.9 1223.5,858.5 1231.5,872.5 1239.5,874.9 1247.5,879.9 1255.5,878.5 1263.5,873.9 1271.5,877.5 1279.5,859.5 1287.5,856.5" fill="none" stroke="#1E90FF" stroke-width="1"/>
<text x="3" y="780.5" font-size="9.3" fill="#000" text-anchor="start" font-weight="normal" stroke="#000" stroke-width="0.1">RSI(14) 45.2763</text>
<rect x="1628" y="770" width="1" height="1" fill="#000"/>
<text x="1630.6" y="779" font-size="9.1" fill="#000" text-anchor="start" font-weight="normal" stroke="#000" stroke-width="0.1">100</text>
<text x="1630.6" y="804.5" font-size="9.1" fill="#000" text-anchor="start" font-weight="normal" stroke="#000" stroke-width="0.1">80</text>
<text x="1630.6" y="851.5" font-size="9.1" fill="#000" text-anchor="start" font-weight="normal" stroke="#000" stroke-width="0.1">50</text>
<text x="1630.6" y="907.5" font-size="9.1" fill="#000" text-anchor="start" font-weight="normal" stroke="#000" stroke-width="0.1">15</text>
<rect x="1628" y="927" width="1" height="1" fill="#000"/>
<text x="1630.6" y="925" font-size="9.1" fill="#000" text-anchor="start" font-weight="normal" stroke="#000" stroke-width="0.1">0</text>
<rect x="-1" y="929" width="1" height="4" fill="#000"/>
<text x="-2" y="941" font-size="9.3" fill="#000" text-anchor="start" font-weight="normal" stroke="#000" stroke-width="0.1">25 Jul 2019</text>
<rect x="63" y="929" width="1" height="4" fill="#000"/>
<text x="62" y="941" font-size="9.3" fill="#000" text-anchor="start" font-weight="normal" stroke="#000" stroke-width="0.1">31 Jul 01:15</text>
<rect x="127" y="929" width="1" height="4" fill="#000"/>
<text x="126" y="941" font-size="9.3" fill="#000" text-anchor="start" font-weight="normal" stroke="#000" stroke-width="0.1">6 Aug 01:15</text>
<rect x="191" y="929" width="1" height="4" fill="#000"/>
<text x="190" y="941" font-size="9.3" fill="#000" text-anchor="start" font-weight="normal" stroke="#000" stroke-width="0.1">12 Aug 01:15</text>
<rect x="255" y="929" width="1" height="4" fill="#000"/>
<text x="254" y="941" font-size="9.3" fill="#000" text-anchor="start" font-weight="normal" stroke="#000" stroke-width="0.1">16 Aug 01:15</text>
<rect x="319" y="929" width="1" height="4" fill="#000"/>
<text x="318" y="941" font-size="9.3" fill="#000" text-anchor="start" font-weight="normal" stroke="#000" stroke-width="0.1">22 Aug 01:15</text>
<rect x="383" y="929" width="1" height="4" fill="#000"/>
<text x="382" y="941" font-size="9.3" fill="#000" text-anchor="start" font-weight="normal" stroke="#000" stroke-width="0.1">28 Aug 01:15</text>
<rect x="447" y="929" width="1" height="4" fill="#000"/>
<text x="446" y="941" font-size="9.3" fill="#000" text-anchor="start" font-weight="normal" stroke="#000" stroke-width="0.1">3 Sep 01:15</text>
<rect x="511" y="929" width="1" height="4" fill="#000"/>
<text x="510" y="941" font-size="9.3" fill="#000" text-anchor="start" font-weight="normal" stroke="#000" stroke-width="0.1">9 Sep 01:15</text>
<rect x="575" y="929" width="1" height="4" fill="#000"/>
<text x="574" y="941" font-size="9.3" fill="#000" text-anchor="start" font-weight="normal" stroke="#000" stroke-width="0.1">13 Sep 01:15</text>
<rect x="639" y="929" width="1" height="4" fill="#000"/>
<text x="638" y="941" font-size="9.3" fill="#000" text-anchor="start" font-weight="normal" stroke="#000" stroke-width="0.1">19 Sep 01:15</text>
<rect x="703" y="929" width="1" height="4" fill="#000"/>
<text x="702" y="941" font-size="9.3" fill="#000" text-anchor="start" font-weight="normal" stroke="#000" stroke-width="0.1">25 Sep 01:15</text>
<rect x="767" y="929" width="1" height="4" fill="#000"/>
<text x="766" y="941" font-size="9.3" fill="#000" text-anchor="start" font-weight="normal" stroke="#000" stroke-width="0.1">2 Oct 01:15</text>
<rect x="831" y="929" width="1" height="4" fill="#000"/>
<text x="830" y="941" font-size="9.3" fill="#000" text-anchor="start" font-weight="normal" stroke="#000" stroke-width="0.1">9 Oct 01:15</text>
<rect x="895" y="929" width="1" height="4" fill="#000"/>
<text x="894" y="941" font-size="9.3" fill="#000" text-anchor="start" font-weight="normal" stroke="#000" stroke-width="0.1">15 Oct 01:15</text>
<rect x="959" y="929" width="1" height="4" fill="#000"/>
<text x="958" y="941" font-size="9.3" fill="#000" text-anchor="start" font-weight="normal" stroke="#000" stroke-width="0.1">21 Oct 01:15</text>
<rect x="1023" y="929" width="1" height="4" fill="#000"/>
<text x="1022" y="941" font-size="9.3" fill="#000" text-anchor="start" font-weight="normal" stroke="#000" stroke-width="0.1">25 Oct 01:15</text>
<rect x="1087" y="929" width="1" height="4" fill="#000"/>
<text x="1086" y="941" font-size="9.3" fill="#000" text-anchor="start" font-weight="normal" stroke="#000" stroke-width="0.1">31 Oct 01:15</text>
<rect x="1151" y="929" width="1" height="4" fill="#000"/>
<text x="1150" y="941" font-size="9.3" fill="#000" text-anchor="start" font-weight="normal" stroke="#000" stroke-width="0.1">6 Nov 01:15</text>
<rect x="1215" y="929" width="1" height="4" fill="#000"/>
<text x="1214" y="941" font-size="9.3" fill="#000" text-anchor="start" font-weight="normal" stroke="#000" stroke-width="0.1">12 Nov 01:15</text>
<rect x="1279" y="929" width="1" height="4" fill="#000"/>
<text x="1278" y="941" font-size="9.3" fill="#000" text-anchor="start" font-weight="normal" stroke="#000" stroke-width="0.1">18 Nov 01:15</text>
<polygon points="2,39.5 9.5,39.5 5.75,35" fill="#000" shape-rendering="auto"/>
<text x="14" y="40" font-size="9.3" fill="#000" text-anchor="start" font-weight="normal" stroke="#000" stroke-width="0.1">HK50-,H4&#160;&#160;26593.0 26699.0 26460.5 26678.0</text></svg>
<svg width="230" height="120" viewBox="0 0 230 120" shape-rendering="crispEdges" font-family='"Liberation Sans", sans-serif' style="position:absolute;left:0;top:0"><defs><linearGradient id="gBtn" x1="0" y1="0" x2="0" y2="1"><stop offset="0" stop-color="#FB5353"/><stop offset="1" stop-color="#DE3333"/></linearGradient><linearGradient id="gBox" x1="0" y1="0" x2="0" y2="1"><stop offset="0" stop-color="#DE3030"/><stop offset="0.55" stop-color="#C61616"/><stop offset="1" stop-color="#AE0000"/></linearGradient><linearGradient id="gSpin" x1="0" y1="0" x2="0" y2="1"><stop offset="0" stop-color="#F0F0F0"/><stop offset="1" stop-color="#E2E2E2"/></linearGradient></defs>
<rect x="0" y="46" width="223" height="68" fill="#fff"/>
<rect x="2" y="72" width="109" height="40" fill="#B40000"/>
<rect x="3" y="73" width="107" height="38" fill="url(#gBox)"/>
<rect x="113" y="72" width="108" height="40" fill="#B40000"/>
<rect x="114" y="73" width="106" height="38" fill="url(#gBox)"/>
<rect x="2" y="48" width="52" height="25" fill="#B40000"/>
<rect x="3" y="49" width="50" height="24" fill="url(#gBtn)"/>
<rect x="6" y="71" width="44" height="1" fill="#B00808"/>
<rect x="6" y="72" width="44" height="1" fill="#F59A9A"/>
<rect x="169" y="48" width="52" height="25" fill="#B40000"/>
<rect x="170" y="49" width="50" height="24" fill="url(#gBtn)"/>
<rect x="173" y="71" width="44" height="1" fill="#B00808"/>
<rect x="173" y="72" width="44" height="1" fill="#F59A9A"/>
<rect x="56" y="48" width="111" height="22" fill="#ABADB3"/>
<rect x="57" y="49" width="109" height="20" fill="#fff"/>
<rect x="57" y="49" width="20" height="20" fill="url(#gSpin)"/>
<rect x="77" y="49" width="1" height="20" fill="#ABADB3"/>
<rect x="146" y="49" width="20" height="20" fill="url(#gSpin)"/>
<rect x="145" y="49" width="1" height="20" fill="#ABADB3"/>
<polygon points="64,57 69.4,57 66.7,60.2" fill="#000" shape-rendering="auto"/><polygon points="152.6,60.2 158.2,60.2 155.4,57" fill="#000" shape-rendering="auto"/>
<text x="14.2" y="64.2" font-size="12" font-weight="normal" fill="#fff" textLength="25.6" lengthAdjust="spacingAndGlyphs">SELL</text>
<text x="182.6" y="64.2" font-size="12" font-weight="normal" fill="#fff" textLength="23" lengthAdjust="spacingAndGlyphs">BUY</text>
<text x="118.4" y="62.9" font-size="12" font-weight="normal" fill="#000">1.00</text>
<text x="17.8" y="102.9" font-size="12" font-weight="bold" fill="#fff" textLength="35.4" lengthAdjust="spacingAndGlyphs">26676</text>
<text x="127.8" y="102.9" font-size="12" font-weight="bold" fill="#fff" textLength="35.2" lengthAdjust="spacingAndGlyphs">26689</text>
<text transform="translate(55.8,103.4) scale(0.8,1)" font-size="34.5" fill="#fff">.</text>
<text transform="translate(64.7,103.4) scale(0.8,1)" font-size="34.5" fill="#fff">5</text>
<text transform="translate(166.4,103.4) scale(0.8,1)" font-size="34.5" fill="#fff">.</text>
<text transform="translate(175.4,103.4) scale(0.8,1)" font-size="34.5" fill="#fff">5</text></svg>
<div id="tb"><div class="l1"></div><div class="l2"></div><div class="l3"></div><svg width="1675" height="24" viewBox="0 0 1675 24" font-family='"Liberation Sans", sans-serif' style="position:absolute;left:0;top:0"><defs>
<linearGradient id="gGold" x1="0" y1="0" x2="1" y2="1"><stop offset="0" stop-color="#FBE36A"/><stop offset="0.5" stop-color="#E8B923"/><stop offset="1" stop-color="#B07A10"/></linearGradient>
<linearGradient id="gPlus" x1="0" y1="0" x2="0" y2="1"><stop offset="0" stop-color="#7CF07C"/><stop offset="1" stop-color="#0FA30F"/></linearGradient>
<linearGradient id="gCube" x1="0" y1="0" x2="1" y2="1"><stop offset="0" stop-color="#6FC3F7"/><stop offset="1" stop-color="#1570D0"/></linearGradient>
<linearGradient id="gCloud" x1="0" y1="0" x2="0" y2="1"><stop offset="0" stop-color="#FFFFFF"/><stop offset="1" stop-color="#B9D0EE"/></linearGradient>
<linearGradient id="gHat" x1="0" y1="0" x2="0" y2="1"><stop offset="0" stop-color="#8FD0F0"/><stop offset="1" stop-color="#3E8FC8"/></linearGradient>
<linearGradient id="gFace" x1="0" y1="0" x2="1" y2="1"><stop offset="0" stop-color="#FFF2A0"/><stop offset="1" stop-color="#E0A820"/></linearGradient>
<linearGradient id="gCandle" x1="0" y1="0" x2="1" y2="0"><stop offset="0" stop-color="#2FD22F"/><stop offset="0.5" stop-color="#8CFF8C"/><stop offset="1" stop-color="#20C020"/></linearGradient>
<linearGradient id="gLens" x1="0" y1="0" x2="0" y2="1"><stop offset="0" stop-color="#F2FAFF"/><stop offset="1" stop-color="#BFE0F5"/></linearGradient>
<linearGradient id="gGreenSq" x1="0" y1="0" x2="0" y2="1"><stop offset="0" stop-color="#2E8F12"/><stop offset="1" stop-color="#58B830"/></linearGradient>
<linearGradient id="gBlueSq" x1="0" y1="0" x2="0" y2="1"><stop offset="0" stop-color="#1238B0"/><stop offset="1" stop-color="#3C78E0"/></linearGradient>
<radialGradient id="gClock" cx="0.5" cy="0.4" r="0.6"><stop offset="0" stop-color="#2C9BF0"/><stop offset="1" stop-color="#0850A8"/></radialGradient>
<linearGradient id="gBubble" x1="0" y1="0" x2="0" y2="1"><stop offset="0" stop-color="#FFFFFF"/><stop offset="1" stop-color="#D4D4DE"/></linearGradient>
<pattern id="dots" width="2" height="2" patternUnits="userSpaceOnUse"><rect width="2" height="2" fill="#FFFFFF"/><rect width="1" height="1" fill="#EDEDED"/><rect x="1" y="1" width="1" height="1" fill="#EDEDED"/></pattern>
</defs>
<g><rect x="-2.5" y="4.5" width="11" height="13" fill="#FFFFFF" stroke="#9A9A9A"/><rect x="0" y="7" width="6" height="1" fill="#B0B0B0"/><rect x="0" y="9.5" width="6" height="1" fill="#B0B0B0"/><rect x="0" y="12" width="4" height="1" fill="#B0B0B0"/>
<path d="M6,10.3 h4 v3.9 h3.9 v4 h-3.9 v3.9 h-4 v-3.9 h-3.9 v-4 h3.9 z" fill="url(#gPlus)" stroke="#0E8A0E" stroke-width="0.8"/></g>
<g><title>新订单</title>
<text x="16.6" y="14.9" font-size="12.2" font-family='"Liberation Sans", "Noto Sans CJK SC", sans-serif' fill="#000" stroke="#000" stroke-width="0.2" textLength="36.2" lengthAdjust="spacing">新订单</text>
</g>
<polygon points="65.9,13 72.9,17.7 80.9,13 80.3,15.2 72.6,19.8 65.1,15.2" fill="#C48A14" stroke="#9A6A08" stroke-width="0.8" stroke-linejoin="round"/>
<polyline points="66,14.3 72.8,18.7 80.4,14.2" fill="none" stroke="#F6E29A" stroke-width="0.8"/>
<path d="M71.2,5 L80.9,13 L72.9,17.7 L65.9,13 Q69.5,10 71.2,5 z" fill="url(#gGold)" stroke="#B07C0C" stroke-width="0.8" stroke-linejoin="round"/>
<polygon points="95,5.5 101,4 106.3,5.5 106.3,14 101,15.5 95,14" fill="url(#gCube)"/><polygon points="95,5.5 101,7 101,15.5 95,14" fill="#2E8BE6"/><polygon points="95,5.5 101,4 106.3,5.5 101,7" fill="#9ED9FB"/><rect x="102" y="8.5" width="3" height="1" fill="#E8F6FF"/>
<path d="M96,19.6 a3,3 0 0 1 -0.4,-6 a3.2,3.2 0 0 1 5.6,-1.4 a2.6,2.6 0 0 1 4.4,1.2 a3.1,3.1 0 0 1 0.4,6.2 z" fill="url(#gCloud)" stroke="#5C82C4" stroke-width="0.9"/>
<g fill="none" stroke-width="1.3"><circle cx="129" cy="12" r="7.5" stroke="#C4D3EA"/><circle cx="129" cy="12" r="5" stroke="#9DB8E2"/><circle cx="129" cy="12" r="2.7" stroke="#9DB8E2" stroke-width="1"/>
<path d="M129,19.5 a7.5,7.5 0 0 0 7.5,-7.5" stroke="#4FB04F"/><path d="M129,17 a5,5 0 0 0 5,-5" stroke="#6CC06C"/></g>
<rect x="128.6" y="12" width="1.5" height="7.8" fill="#22AA22"/><circle cx="129" cy="11.3" r="1.8" fill="#2C5FC8"/>
<path d="M148.6,12.2 L158.6,20.2 L163.4,12.2 z" fill="url(#gFace)" stroke="#C89A20" stroke-width="0.7"/>
<ellipse cx="156" cy="9.6" rx="8" ry="2.9" fill="url(#gHat)" stroke="#3A7DB0" stroke-width="0.7"/><path d="M151.6,9.2 a4.4,4.6 0 0 1 8.8,0 z" fill="#8FD0F0" stroke="#3A7DB0" stroke-width="0.7"/>
<circle cx="160.6" cy="15.8" r="4.1" fill="#E02A10" stroke="#B01800" stroke-width="0.6"/><rect x="158.9" y="14.1" width="3.4" height="3.4" fill="#FFFFFF"/>
<g><title>自动交易</title>
<text x="169.2" y="15.1" font-size="12.2" font-family='"Liberation Sans", "Noto Sans CJK SC", sans-serif' fill="#000" stroke="#000" stroke-width="0.2" textLength="47.75" lengthAdjust="spacing">自动交易</text>
</g>
<rect x="224" y="0" width="1" height="24" fill="#8E8E8E" shape-rendering="crispEdges"/><rect x="225" y="0" width="1" height="24" fill="#FFFFFF" shape-rendering="crispEdges"/>
<rect x="228" y="2" width="3" height="1" fill="#A6A6A6" shape-rendering="crispEdges"/>
<rect x="228" y="4" width="3" height="1" fill="#A6A6A6" shape-rendering="crispEdges"/>
<rect x="228" y="6" width="3" height="1" fill="#A6A6A6" shape-rendering="crispEdges"/>
<rect x="228" y="8" width="3" height="1" fill="#A6A6A6" shape-rendering="crispEdges"/>
<rect x="228" y="10" width="3" height="1" fill="#A6A6A6" shape-rendering="crispEdges"/>
<rect x="228" y="12" width="3" height="1" fill="#A6A6A6" shape-rendering="crispEdges"/>
<rect x="228" y="14" width="3" height="1" fill="#A6A6A6" shape-rendering="crispEdges"/>
<rect x="228" y="16" width="3" height="1" fill="#A6A6A6" shape-rendering="crispEdges"/>
<rect x="228" y="18" width="3" height="1" fill="#A6A6A6" shape-rendering="crispEdges"/>
<rect x="228" y="20" width="3" height="1" fill="#A6A6A6" shape-rendering="crispEdges"/>
<g stroke="#505050" stroke-width="1.2" fill="none"><line x1="242.4" y1="6.5" x2="242.4" y2="20"/><line x1="239.9" y1="17.7" x2="252.9" y2="17.7"/></g>
<polygon points="240.4,9 242.4,5.8 244.4,9" fill="#505050"/><polygon points="251.4,15.7 254.4,17.7 251.4,19.7" fill="#505050"/>
<path d="M250.8,8.4 H248.4 V14.6 H246" fill="none" stroke="#1E9E1E" stroke-width="1.3"/>
<rect x="262" y="0" width="25" height="22" fill="url(#dots)" shape-rendering="crispEdges"/>
<rect x="262" y="0" width="25" height="1" fill="#A0A0A0" shape-rendering="crispEdges"/><rect x="262" y="0" width="1" height="22" fill="#A0A0A0" shape-rendering="crispEdges"/>
<g stroke="#505050" stroke-width="1.2" fill="none"><line x1="270.5" y1="6.5" x2="270.5" y2="20"/><line x1="268.0" y1="17.7" x2="281.0" y2="17.7"/></g>
<polygon points="268.5,9 270.5,5.8 272.5,9" fill="#505050"/><polygon points="279.5,15.7 282.5,17.7 279.5,19.7" fill="#505050"/>
<rect x="276" y="4" width="1.2" height="12" fill="#1A9A1A"/><rect x="274.2" y="6.4" width="4.8" height="7.4" fill="url(#gCandle)" stroke="#12A012" stroke-width="0.8"/>
<g stroke="#505050" stroke-width="1.2" fill="none"><line x1="298.6" y1="6.5" x2="298.6" y2="20"/><line x1="296.1" y1="17.7" x2="309.1" y2="17.7"/></g>
<polygon points="296.6,9 298.6,5.8 300.6,9" fill="#505050"/><polygon points="307.6,15.7 310.6,17.7 307.6,19.7" fill="#505050"/>
<path d="M297.2,14.7 C300,12 301.5,9 303.2,9 C305,9 306.5,12 308.8,13" fill="none" stroke="#2E9E2E" stroke-width="1.2"/>
<rect x="319" y="1" width="1" height="21" fill="#A0A0A0" shape-rendering="crispEdges"/>
<line x1="338" y1="14.5" x2="343" y2="18.6" stroke="#B08A10" stroke-width="3.4" stroke-linecap="round"/><line x1="338" y1="14.3" x2="343" y2="18.3" stroke="#F0D040" stroke-width="1.6" stroke-linecap="round"/>
<circle cx="334" cy="10" r="5.6" fill="url(#gLens)" stroke="#2C7CD0" stroke-width="1.3"/>
<rect x="330.8" y="9" width="6.4" height="2" fill="#3F86B4"/>
<rect x="333" y="6.8" width="2" height="6.4" fill="#3F86B4"/>
<line x1="366" y1="14.5" x2="371" y2="18.6" stroke="#B08A10" stroke-width="3.4" stroke-linecap="round"/><line x1="366" y1="14.3" x2="371" y2="18.3" stroke="#F0D040" stroke-width="1.6" stroke-linecap="round"/>
<circle cx="362" cy="10" r="5.6" fill="url(#gLens)" stroke="#2C7CD0" stroke-width="1.3"/>
<rect x="358.8" y="9" width="6.4" height="2" fill="#3F86B4"/>
<rect x="384.2" y="4.2" width="7.6" height="7.6" fill="url(#gGreenSq)"/><rect x="385.5" y="7.4" width="5" height="3.4" fill="#F4FAFF"/><rect x="386.5" y="8.2" width="3" height="0.9" fill="url(#gGreenSq)" opacity="0.6"/><rect x="385.2" y="5.1000000000000005" width="1" height="1" fill="#E0F0FF"/>
<rect x="392.2" y="4.2" width="7.6" height="7.6" fill="url(#gBlueSq)"/><rect x="393.5" y="7.4" width="5" height="3.4" fill="#F4FAFF"/><rect x="394.5" y="8.2" width="3" height="0.9" fill="url(#gBlueSq)" opacity="0.6"/><rect x="393.2" y="5.1000000000000005" width="1" height="1" fill="#E0F0FF"/>
<rect x="384.2" y="12.2" width="7.6" height="7.6" fill="url(#gBlueSq)"/><rect x="385.5" y="15.399999999999999" width="5" height="3.4" fill="#F4FAFF"/><rect x="386.5" y="16.2" width="3" height="0.9" fill="url(#gBlueSq)" opacity="0.6"/><rect x="385.2" y="13.1" width="1" height="1" fill="#E0F0FF"/>
<rect x="392.2" y="12.2" width="7.6" height="7.6" fill="url(#gGreenSq)"/><rect x="393.5" y="15.399999999999999" width="5" height="3.4" fill="#F4FAFF"/><rect x="394.5" y="16.2" width="3" height="0.9" fill="url(#gGreenSq)" opacity="0.6"/><rect x="393.2" y="13.1" width="1" height="1" fill="#E0F0FF"/>
<rect x="409" y="1" width="1" height="21" fill="#A0A0A0" shape-rendering="crispEdges"/>
<rect x="414" y="0" width="25" height="22" fill="url(#dots)" shape-rendering="crispEdges"/>
<rect x="414" y="0" width="25" height="1" fill="#A0A0A0" shape-rendering="crispEdges"/><rect x="414" y="0" width="1" height="22" fill="#A0A0A0" shape-rendering="crispEdges"/>
<g stroke="#505050" stroke-width="1.2" fill="none"><line x1="422.4" y1="6.5" x2="422.4" y2="20"/><line x1="419.9" y1="17.7" x2="432.9" y2="17.7"/></g>
<polygon points="420.4,9 422.4,5.8 424.4,9" fill="#505050"/><polygon points="431.4,15.7 434.4,17.7 431.4,19.7" fill="#505050"/>
<polygon points="427.5,8.2 427.5,14.6 430.8,11.4" fill="#9CF09C" stroke="#18A018" stroke-width="1"/>
<rect x="442" y="0" width="25" height="22" fill="url(#dots)" shape-rendering="crispEdges"/>
<rect x="442" y="0" width="25" height="1" fill="#A0A0A0" shape-rendering="crispEdges"/><rect x="442" y="0" width="1" height="22" fill="#A0A0A0" shape-rendering="crispEdges"/>
<g stroke="#505050" stroke-width="1.2" fill="none"><line x1="450.5" y1="6.5" x2="450.5" y2="20"/><line x1="448.0" y1="17.7" x2="461.0" y2="17.7"/></g>
<polygon points="448.5,9 450.5,5.8 452.5,9" fill="#505050"/><polygon points="459.5,15.7 462.5,17.7 459.5,19.7" fill="#505050"/>
<rect x="456" y="6" width="1.2" height="9.8" fill="#1E6CB4"/><line x1="458" y1="11.5" x2="462" y2="11.5" stroke="#E04A10" stroke-width="1.2"/><polygon points="457.2,11.5 460.2,9.3 460.2,13.7" fill="#E04A10"/>
<rect x="471" y="1" width="1" height="21" fill="#A0A0A0" shape-rendering="crispEdges"/>
<path d="M481.5,4.8 h8 l3.2,3.2 v9.6 h-11.2 z" fill="#FFFFFF" stroke="#8C8C8C" stroke-width="0.9"/><path d="M489.5,4.8 v3.2 h3.2" fill="#E8E8E8" stroke="#8C8C8C" stroke-width="0.7"/>
<text x="483.2" y="14" font-size="9" font-style="italic" font-family="'Liberation Serif', serif" fill="#505050">f</text>
<path d="M489.2,10.3 h4 v3.9 h3.9 v4 h-3.9 v3.9 h-4 v-3.9 h-3.9 v-4 h3.9 z" fill="url(#gPlus)" stroke="#0E8A0E" stroke-width="0.8"/>
<polygon points="502.6,11 508.6,11 505.6,14.2" fill="#000"/>
<circle cx="527" cy="12" r="7.8" fill="url(#gClock)"/><circle cx="527" cy="12" r="5.1" fill="#FFFFFF" stroke="#C8D8EA" stroke-width="0.5"/>
<path d="M526.6,8.6 V12.2 H529.6" fill="none" stroke="#202020" stroke-width="1.1"/><circle cx="527" cy="15.4" r="0.6" fill="#5FA8F0"/>
<polygon points="542,11 548,11 545,14.2" fill="#000"/>
<rect x="558.5" y="5.5" width="15" height="13.4" fill="#FFFFFF" stroke="#3C6CC0" stroke-width="1"/><rect x="559" y="5.2" width="14" height="2.6" fill="#4A86D8"/><rect x="559" y="12.6" width="14" height="1" fill="#5C8AD0"/>
<polyline points="560.5,11.2 562.5,11 564.5,9.8 566,9.6 567.5,10.5 569.5,10.2 571.5,9.3" fill="none" stroke="#A0301A" stroke-width="1.1"/><polyline points="561,16.6 563,15.8 564.8,16.4 566.5,16 568.5,14.4 570,15.2 571.5,16.6" fill="none" stroke="#1E9A2A" stroke-width="1.1"/>
<polygon points="581,11 587,11 584,14.2" fill="#000"/>
<rect x="592" y="0" width="1" height="24" fill="#8E8E8E" shape-rendering="crispEdges"/><rect x="593" y="0" width="1" height="24" fill="#FFFFFF" shape-rendering="crispEdges"/>
<rect x="596" y="2" width="3" height="1" fill="#A6A6A6" shape-rendering="crispEdges"/>
<rect x="596" y="4" width="3" height="1" fill="#A6A6A6" shape-rendering="crispEdges"/>
<rect x="596" y="6" width="3" height="1" fill="#A6A6A6" shape-rendering="crispEdges"/>
<rect x="596" y="8" width="3" height="1" fill="#A6A6A6" shape-rendering="crispEdges"/>
<rect x="596" y="10" width="3" height="1" fill="#A6A6A6" shape-rendering="crispEdges"/>
<rect x="596" y="12" width="3" height="1" fill="#A6A6A6" shape-rendering="crispEdges"/>
<rect x="596" y="14" width="3" height="1" fill="#A6A6A6" shape-rendering="crispEdges"/>
<rect x="596" y="16" width="3" height="1" fill="#A6A6A6" shape-rendering="crispEdges"/>
<rect x="596" y="18" width="3" height="1" fill="#A6A6A6" shape-rendering="crispEdges"/>
<rect x="596" y="20" width="3" height="1" fill="#A6A6A6" shape-rendering="crispEdges"/>
<rect x="602" y="0" width="25" height="22" fill="url(#dots)" shape-rendering="crispEdges"/>
<rect x="602" y="0" width="25" height="1" fill="#A0A0A0" shape-rendering="crispEdges"/><rect x="602" y="0" width="1" height="22" fill="#A0A0A0" shape-rendering="crispEdges"/>
<polygon points="610,5 610,16.2 612.4,14 615,19.2 616.8,18.3 614.3,13.3 618,12.6" fill="#505050"/>
<g stroke="#505050" stroke-width="1.2"><line x1="635" y1="12.4" x2="640.8" y2="12.4"/><line x1="644" y1="12.4" x2="650" y2="12.4"/><line x1="642.4" y1="5" x2="642.4" y2="10.8"/><line x1="642.4" y1="14" x2="642.4" y2="20"/></g><rect x="642" y="12" width="0.9" height="0.9" fill="#505050"/>
<rect x="659" y="1" width="1" height="21" fill="#A0A0A0" shape-rendering="crispEdges"/>
<g stroke="#505050" stroke-width="1.3"><line x1="676.4" y1="6" x2="676.4" y2="19"/><line x1="699" y1="12.4" x2="711" y2="12.4"/><line x1="726.8" y1="18.8" x2="739.2" y2="6.6"/></g>
<g stroke="#505050" stroke-width="1.1"><line x1="752.8" y1="13.9" x2="761" y2="6"/><line x1="754" y1="18.2" x2="766" y2="6.5"/><line x1="758" y1="18.8" x2="767" y2="10"/><line x1="756" y1="11" x2="755" y2="17.5"/><line x1="759.5" y1="8" x2="758" y2="15.5"/><line x1="763" y1="6" x2="762" y2="13"/><line x1="766" y1="4.5" x2="765" y2="11.5"/></g>
<text x="763.6" y="20.8" font-size="6.5" font-weight="bold" fill="#505050">E</text>
<line x1="782" y1="5.5" x2="795.5" y2="5.5" stroke="#505050" stroke-width="1" stroke-dasharray="1 1" shape-rendering="crispEdges"/>
<line x1="782" y1="8.5" x2="795.5" y2="8.5" stroke="#505050" stroke-width="1" stroke-dasharray="1 1" shape-rendering="crispEdges"/>
<line x1="782" y1="12.5" x2="795.5" y2="12.5" stroke="#505050" stroke-width="1" stroke-dasharray="1 1" shape-rendering="crispEdges"/>
<line x1="782" y1="16.5" x2="791" y2="16.5" stroke="#505050" stroke-width="1" stroke-dasharray="1 1" shape-rendering="crispEdges"/>
<text x="791.8" y="20.8" font-size="6.5" font-weight="bold" fill="#505050">F</text>
<text x="812.2" y="16.7" font-size="12" font-weight="bold" fill="#606060">A</text>
<rect x="839.5" y="6.5" width="11.5" height="12" fill="none" stroke="#505050" stroke-width="1" stroke-dasharray="1 1" shape-rendering="crispEdges"/><rect x="838.5" y="5.3" width="1.6" height="1.2" fill="#505050"/>
<path d="M841.2,9.4 h7.6 v1.5 h-3 v5.9 h-1.6 v-5.9 h-3 z" fill="#505050"/>
<polygon points="869.2,5.8 872.4,8.7 869.2,10.6 866,8.7" fill="#505050"/><polygon points="876.6,19.2 873.2,16 876.6,14 880,16" fill="#505050"/><polyline points="868.6,13.6 870.4,15.4 874.6,10.6" fill="none" stroke="#505050" stroke-width="1.2"/>
<polygon points="886.6,11 892.6,11 889.6,14.2" fill="#000"/>
<rect x="898" y="0" width="1" height="24" fill="#8E8E8E" shape-rendering="crispEdges"/><rect x="899" y="0" width="1" height="24" fill="#FFFFFF" shape-rendering="crispEdges"/>
<rect x="902" y="2" width="3" height="1" fill="#A6A6A6" shape-rendering="crispEdges"/>
<rect x="902" y="4" width="3" height="1" fill="#A6A6A6" shape-rendering="crispEdges"/>
<rect x="902" y="6" width="3" height="1" fill="#A6A6A6" shape-rendering="crispEdges"/>
<rect x="902" y="8" width="3" height="1" fill="#A6A6A6" shape-rendering="crispEdges"/>
<rect x="902" y="10" width="3" height="1" fill="#A6A6A6" shape-rendering="crispEdges"/>
<rect x="902" y="12" width="3" height="1" fill="#A6A6A6" shape-rendering="crispEdges"/>
<rect x="902" y="14" width="3" height="1" fill="#A6A6A6" shape-rendering="crispEdges"/>
<rect x="902" y="16" width="3" height="1" fill="#A6A6A6" shape-rendering="crispEdges"/>
<rect x="902" y="18" width="3" height="1" fill="#A6A6A6" shape-rendering="crispEdges"/>
<rect x="902" y="20" width="3" height="1" fill="#A6A6A6" shape-rendering="crispEdges"/>
<rect x="1048" y="0" width="25" height="22" fill="url(#dots)" shape-rendering="crispEdges"/>
<rect x="1048" y="0" width="25" height="1" fill="#A0A0A0" shape-rendering="crispEdges"/><rect x="1048" y="0" width="1" height="22" fill="#A0A0A0" shape-rendering="crispEdges"/>
<text x="920" y="16" font-size="9.3" text-anchor="middle" fill="#303030">M1</text>
<text x="948" y="16" font-size="9.3" text-anchor="middle" fill="#303030">M5</text>
<text x="976.5" y="16" font-size="9.3" text-anchor="middle" fill="#303030">M15</text>
<text x="1004.5" y="16" font-size="9.3" text-anchor="middle" fill="#303030">M30</text>
<text x="1032.4" y="16" font-size="9.3" text-anchor="middle" fill="#303030">H1</text>
<text x="1060" y="16" font-size="9.3" text-anchor="middle" fill="#303030">H4</text>
<text x="1088.5" y="16" font-size="9.3" text-anchor="middle" fill="#303030">D1</text>
<text x="1117.1" y="16" font-size="9.3" text-anchor="middle" fill="#303030">W1</text>
<text x="1144" y="16" font-size="9.3" text-anchor="middle" fill="#303030">MN</text>
<rect x="1159" y="0" width="1" height="24" fill="#8E8E8E" shape-rendering="crispEdges"/><rect x="1160" y="0" width="1" height="24" fill="#FFFFFF" shape-rendering="crispEdges"/>
<line x1="1626.3" y1="12.6" x2="1622.4" y2="16.5" stroke="#1C4FD0" stroke-width="2.6" stroke-linecap="round"/><circle cx="1629.7" cy="9.4" r="4" fill="#FAFCFF" stroke="#2262DC" stroke-width="1.3"/>
<path d="M1655.4,8.8 a6.6,4.6 0 1 1 10.2,3.9 l0.4,2.6 l-2.6,-1.9 a6.6,4.6 0 0 1 -8,-4.6 z" fill="url(#gBubble)" stroke="#8A8A8A" stroke-width="0.8"/>
<path d="M1648.3,13.2 a5.1,3.8 0 1 1 4.2,3.7 l-2.4,1.8 l0.5,-2.5 a5.1,3.8 0 0 1 -2.3,-3 z" fill="url(#gBubble)" stroke="#8A8A8A" stroke-width="0.8"/></svg></div>
</body></html>
